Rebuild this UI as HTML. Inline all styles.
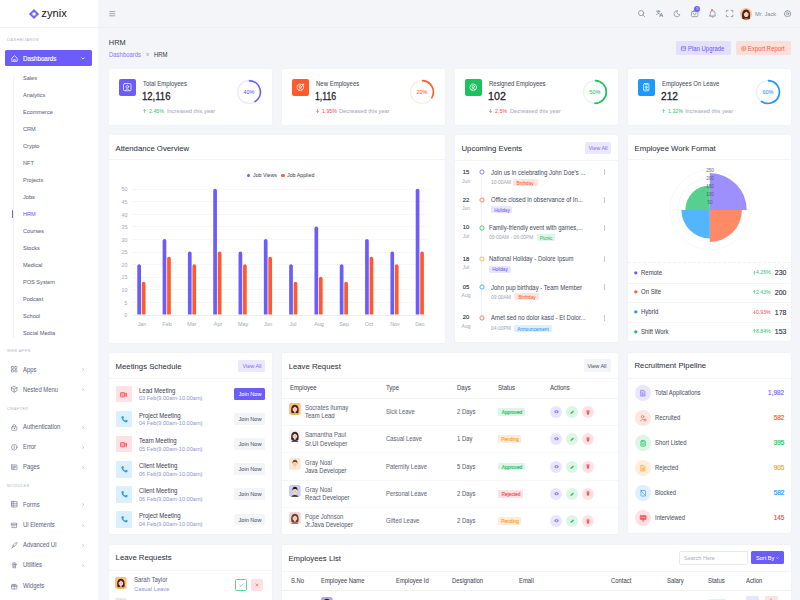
<!DOCTYPE html><html><head><meta charset="utf-8"><title>HRM</title><style>
*{box-sizing:border-box;margin:0;padding:0}
html,body{width:800px;height:600px;overflow:hidden;background:#f4f5f9;font-family:"Liberation Sans",sans-serif}
.a{position:absolute}
.t{position:absolute;line-height:1;white-space:nowrap;-webkit-text-stroke:0.04px currentColor}
.card{background:#fff;border-radius:1.5px;box-shadow:0 0 1.5px rgba(120,125,150,0.10)}
svg{overflow:visible}
</style></head><body>
<div class="a" style="left:0.00px;top:0.00px;width:98.00px;height:600.00px;background:#fff;border-radius:0px;"></div>
<div class="a" style="left:97.60px;top:0.00px;width:0.80px;height:600.00px;background:#f5f6f9;border-radius:0px;"></div>
<div class="a" style="left:0.00px;top:27.00px;width:98.00px;height:0;border-top:0.5px solid #eef0f4"></div>
<svg class="a" style="left:29.10px;top:8.90px;" width="10" height="10" viewBox="0 0 10 10"><path d="M5 -0.1 L10.1 5 L5 10.1 L-0.1 5 Z" fill="#6c5cfc" opacity="0.95"/>
<path d="M5 2.9 L7.1 5 L5 7.1 L2.9 5 Z" fill="#fff"/><path d="M2.6 2.6 L7.4 7.4 M7.4 2.6 L2.6 7.4" stroke="#fff" stroke-width="0.35" opacity="0.45"/></svg>
<div class="t" style="top:8px;font-size:11.2px;color:#1a1a1a;left:41.30px;-webkit-text-stroke:0.05px #1a1a1a;">zynix</div>
<div class="t" style="top:38px;font-size:4.39px;color:#bcc2d0;left:7.00px;transform:scaleX(0.935);transform-origin:0 0;letter-spacing:0.35px;">DASHBOARDS</div>
<div class="a" style="left:5.00px;top:50.00px;width:86.50px;height:16.00px;background:#6c5cfc;border-radius:1.6px;"></div>
<svg class="a" style="left:10.90px;top:55.00px;" width="7" height="7" viewBox="0 0 7 7"><path d="M0.8 3.1 L3.5 0.7 L6.2 3.1 V6.3 H0.8 Z" fill="none" stroke="#fff" stroke-width="0.75" stroke-linejoin="round"/><path d="M2.7 6.3 V4.5 H4.3 V6.3" fill="none" stroke="#fff" stroke-width="0.65"/></svg>
<div class="t" style="top:56px;font-size:6.63px;color:#fff;left:23.00px;transform:scaleX(0.935);transform-origin:0 0;-webkit-text-stroke:0.15px #fff;">Dashboards</div>
<svg class="a" style="left:81.10px;top:56.90px;" width="4" height="3" viewBox="0 0 4 3"><path d="M0.4 0.5 L2 2.1 L3.6 0.5" fill="none" stroke="#fff" stroke-width="0.8"/></svg>
<div class="a" style="left:12.60px;top:76.50px;width:0.70px;height:261.00px;background:#f0f1f5;border-radius:0px;"></div>
<div class="t" style="top:75px;font-size:5.99px;color:#5d6880;left:23.00px;transform:scaleX(0.935);transform-origin:0 0;">Sales</div>
<div class="t" style="top:92px;font-size:5.99px;color:#5d6880;left:23.00px;transform:scaleX(0.935);transform-origin:0 0;">Analytics</div>
<div class="t" style="top:109px;font-size:5.99px;color:#5d6880;left:23.00px;transform:scaleX(0.935);transform-origin:0 0;">Ecommerce</div>
<div class="t" style="top:126px;font-size:5.99px;color:#5d6880;left:23.00px;transform:scaleX(0.935);transform-origin:0 0;">CRM</div>
<div class="t" style="top:143px;font-size:5.99px;color:#5d6880;left:23.00px;transform:scaleX(0.935);transform-origin:0 0;">Crypto</div>
<div class="t" style="top:160px;font-size:5.99px;color:#5d6880;left:23.00px;transform:scaleX(0.935);transform-origin:0 0;">NFT</div>
<div class="t" style="top:177px;font-size:5.99px;color:#5d6880;left:23.00px;transform:scaleX(0.935);transform-origin:0 0;">Projects</div>
<div class="t" style="top:194px;font-size:5.99px;color:#5d6880;left:23.00px;transform:scaleX(0.935);transform-origin:0 0;">Jobs</div>
<div class="t" style="top:211px;font-size:5.99px;color:#6c5cfc;left:23.00px;transform:scaleX(0.935);transform-origin:0 0;">HRM</div>
<div class="t" style="top:228px;font-size:5.99px;color:#5d6880;left:23.00px;transform:scaleX(0.935);transform-origin:0 0;">Courses</div>
<div class="t" style="top:245px;font-size:5.99px;color:#5d6880;left:23.00px;transform:scaleX(0.935);transform-origin:0 0;">Stocks</div>
<div class="t" style="top:262px;font-size:5.99px;color:#5d6880;left:23.00px;transform:scaleX(0.935);transform-origin:0 0;">Medical</div>
<div class="t" style="top:279px;font-size:5.99px;color:#5d6880;left:23.00px;transform:scaleX(0.935);transform-origin:0 0;">POS System</div>
<div class="t" style="top:296px;font-size:5.99px;color:#5d6880;left:23.00px;transform:scaleX(0.935);transform-origin:0 0;">Podcast</div>
<div class="t" style="top:313px;font-size:5.99px;color:#5d6880;left:23.00px;transform:scaleX(0.935);transform-origin:0 0;">School</div>
<div class="t" style="top:330px;font-size:5.99px;color:#5d6880;left:23.00px;transform:scaleX(0.935);transform-origin:0 0;">Social Media</div>
<div class="a" style="left:12.30px;top:209.70px;width:1.20px;height:8.00px;background:#6c5cfc;border-radius:0.5px;"></div>
<div class="t" style="top:349px;font-size:4.39px;color:#bcc2d0;left:7.00px;transform:scaleX(0.935);transform-origin:0 0;letter-spacing:0.35px;">WEB APPS</div>
<svg class="a" style="left:10.80px;top:366.05px;" width="6.5" height="6.5" viewBox="0 0 6.5 6.5"><g fill="none" stroke="#6b7388" stroke-width="0.6" stroke-linejoin="round" stroke-linecap="round"><rect x="0.5" y="0.5" width="2.2" height="2.2" rx="0.4"/><rect x="3.8" y="0.5" width="2.2" height="2.2" rx="0.4"/><rect x="0.5" y="3.8" width="2.2" height="2.2" rx="0.4"/><rect x="3.8" y="3.8" width="2.2" height="2.2" rx="0.4"/></g></svg>
<div class="t" style="top:367px;font-size:6.31px;color:#5d6880;left:23.00px;transform:scaleX(0.935);transform-origin:0 0;">Apps</div>
<svg class="a" style="left:82.20px;top:368.00px;" width="2.2" height="3" viewBox="0 0 2.2 3"><path d="M0.4 0.3 L1.7 1.5 L0.4 2.7" fill="none" stroke="#8d95a8" stroke-width="0.55"/></svg>
<svg class="a" style="left:10.80px;top:386.25px;" width="6.5" height="6.5" viewBox="0 0 6.5 6.5"><g fill="none" stroke="#6b7388" stroke-width="0.6" stroke-linejoin="round" stroke-linecap="round"><path d="M3.25 0.4 L6 1.8 V4.7 L3.25 6.1 L0.5 4.7 V1.8 Z"/><path d="M0.5 1.8 L3.25 3.2 L6 1.8 M3.25 3.2 V6.1"/></g></svg>
<div class="t" style="top:387px;font-size:6.31px;color:#5d6880;left:23.00px;transform:scaleX(0.935);transform-origin:0 0;">Nested Menu</div>
<svg class="a" style="left:82.20px;top:388.20px;" width="2.2" height="3" viewBox="0 0 2.2 3"><path d="M0.4 0.3 L1.7 1.5 L0.4 2.7" fill="none" stroke="#8d95a8" stroke-width="0.55"/></svg>
<div class="t" style="top:407px;font-size:4.39px;color:#bcc2d0;left:7.00px;transform:scaleX(0.935);transform-origin:0 0;letter-spacing:0.35px;">CRAFTED</div>
<svg class="a" style="left:10.80px;top:423.55px;" width="6.5" height="6.5" viewBox="0 0 6.5 6.5"><g fill="none" stroke="#6b7388" stroke-width="0.6" stroke-linejoin="round" stroke-linecap="round"><rect x="0.7" y="2.8" width="5.1" height="3.5" rx="0.5"/><path d="M1.9 2.8 V1.9 A1.35 1.35 0 0 1 4.6 1.9 V2.8"/><circle cx="3.25" cy="4.5" r="0.3"/></g></svg>
<div class="t" style="top:424px;font-size:6.31px;color:#5d6880;left:23.00px;transform:scaleX(0.935);transform-origin:0 0;">Authentication</div>
<svg class="a" style="left:82.20px;top:425.50px;" width="2.2" height="3" viewBox="0 0 2.2 3"><path d="M0.4 0.3 L1.7 1.5 L0.4 2.7" fill="none" stroke="#8d95a8" stroke-width="0.55"/></svg>
<svg class="a" style="left:10.80px;top:443.55px;" width="6.5" height="6.5" viewBox="0 0 6.5 6.5"><g fill="none" stroke="#6b7388" stroke-width="0.6" stroke-linejoin="round" stroke-linecap="round"><circle cx="3.25" cy="3.25" r="2.8"/><path d="M3.25 1.8 V3.6 M3.25 4.4 V4.7"/></g></svg>
<div class="t" style="top:444px;font-size:6.31px;color:#5d6880;left:23.00px;transform:scaleX(0.935);transform-origin:0 0;">Error</div>
<svg class="a" style="left:82.20px;top:445.50px;" width="2.2" height="3" viewBox="0 0 2.2 3"><path d="M0.4 0.3 L1.7 1.5 L0.4 2.7" fill="none" stroke="#8d95a8" stroke-width="0.55"/></svg>
<svg class="a" style="left:10.80px;top:463.95px;" width="6.5" height="6.5" viewBox="0 0 6.5 6.5"><g fill="none" stroke="#6b7388" stroke-width="0.6" stroke-linejoin="round" stroke-linecap="round"><rect x="0.5" y="0.9" width="5.5" height="4.7" rx="0.4"/><path d="M1.6 2.3 H4.9 M1.6 3.3 H4.9 M1.6 4.3 H3.5"/></g></svg>
<div class="t" style="top:464px;font-size:6.31px;color:#5d6880;left:23.00px;transform:scaleX(0.935);transform-origin:0 0;">Pages</div>
<svg class="a" style="left:82.20px;top:465.90px;" width="2.2" height="3" viewBox="0 0 2.2 3"><path d="M0.4 0.3 L1.7 1.5 L0.4 2.7" fill="none" stroke="#8d95a8" stroke-width="0.55"/></svg>
<div class="t" style="top:484px;font-size:4.39px;color:#bcc2d0;left:7.00px;transform:scaleX(0.935);transform-origin:0 0;letter-spacing:0.35px;">MODULES</div>
<svg class="a" style="left:10.80px;top:501.35px;" width="6.5" height="6.5" viewBox="0 0 6.5 6.5"><g fill="none" stroke="#6b7388" stroke-width="0.6" stroke-linejoin="round" stroke-linecap="round"><rect x="0.5" y="0.5" width="5.5" height="5.5" rx="0.4"/><path d="M0.5 2.3 H6 M0.5 4.2 H6 M2.2 0.5 V6"/></g></svg>
<div class="t" style="top:502px;font-size:6.31px;color:#5d6880;left:23.00px;transform:scaleX(0.935);transform-origin:0 0;">Forms</div>
<svg class="a" style="left:82.20px;top:503.30px;" width="2.2" height="3" viewBox="0 0 2.2 3"><path d="M0.4 0.3 L1.7 1.5 L0.4 2.7" fill="none" stroke="#8d95a8" stroke-width="0.55"/></svg>
<svg class="a" style="left:10.80px;top:521.55px;" width="6.5" height="6.5" viewBox="0 0 6.5 6.5"><g fill="none" stroke="#6b7388" stroke-width="0.6" stroke-linejoin="round" stroke-linecap="round"><path d="M0.5 1.2 H6 V2.6 H0.5 Z M1 2.6 V5.6 H5.5 V2.6"/><path d="M2.4 3.8 H4.1"/></g></svg>
<div class="t" style="top:522px;font-size:6.31px;color:#5d6880;left:23.00px;transform:scaleX(0.935);transform-origin:0 0;">Ui Elements</div>
<svg class="a" style="left:82.20px;top:523.50px;" width="2.2" height="3" viewBox="0 0 2.2 3"><path d="M0.4 0.3 L1.7 1.5 L0.4 2.7" fill="none" stroke="#8d95a8" stroke-width="0.55"/></svg>
<svg class="a" style="left:10.80px;top:541.85px;" width="6.5" height="6.5" viewBox="0 0 6.5 6.5"><g fill="none" stroke="#6b7388" stroke-width="0.6" stroke-linejoin="round" stroke-linecap="round"><path d="M1 5.8 L2.2 3.4 C3 1.6 4.6 0.6 5.9 0.6 C5.9 2.2 4.9 3.6 3.1 4.4 Z"/><path d="M2.2 3.4 L3.1 4.4"/></g></svg>
<div class="t" style="top:542px;font-size:6.31px;color:#5d6880;left:23.00px;transform:scaleX(0.935);transform-origin:0 0;">Advanced UI</div>
<svg class="a" style="left:82.20px;top:543.80px;" width="2.2" height="3" viewBox="0 0 2.2 3"><path d="M0.4 0.3 L1.7 1.5 L0.4 2.7" fill="none" stroke="#8d95a8" stroke-width="0.55"/></svg>
<svg class="a" style="left:10.80px;top:561.95px;" width="6.5" height="6.5" viewBox="0 0 6.5 6.5"><g fill="none" stroke="#6b7388" stroke-width="0.6" stroke-linejoin="round" stroke-linecap="round"><circle cx="3.25" cy="2.4" r="1.9"/><circle cx="3.25" cy="2.4" r="0.8"/><path d="M2 4 V6.1 L3.25 5.4 L4.5 6.1 V4"/></g></svg>
<div class="t" style="top:562px;font-size:6.31px;color:#5d6880;left:23.00px;transform:scaleX(0.935);transform-origin:0 0;">Utilities</div>
<svg class="a" style="left:82.20px;top:563.90px;" width="2.2" height="3" viewBox="0 0 2.2 3"><path d="M0.4 0.3 L1.7 1.5 L0.4 2.7" fill="none" stroke="#8d95a8" stroke-width="0.55"/></svg>
<svg class="a" style="left:10.80px;top:582.75px;" width="6.5" height="6.5" viewBox="0 0 6.5 6.5"><g fill="none" stroke="#6b7388" stroke-width="0.6" stroke-linejoin="round" stroke-linecap="round"><rect x="0.6" y="2" width="5.3" height="4" rx="0.4"/><path d="M0.6 3.4 H5.9 M3.25 2 V6 M3.25 2 C2.2 0.4 1.2 1.2 2 2 M3.25 2 C4.3 0.4 5.3 1.2 4.5 2"/></g></svg>
<div class="t" style="top:583px;font-size:6.31px;color:#5d6880;left:23.00px;transform:scaleX(0.935);transform-origin:0 0;">Widgets</div>
<div class="a" style="left:98.00px;top:27.00px;width:702.00px;height:0;border-top:0.5px solid #eceef3"></div>
<svg class="a" style="left:109.00px;top:11.00px;" width="6.5" height="5.5" viewBox="0 0 6.5 5.5"><path d="M0.3 0.6 H6.2 M0.3 2.7 H6.2 M0.3 4.8 H6.2" stroke="#7d869a" stroke-width="0.7"/></svg>
<svg class="a" style="left:637.80px;top:9.90px;" width="7.5" height="7.5" viewBox="0 0 7.5 7.5"><g fill="none" stroke="#7f889e" stroke-width="0.75" stroke-linecap="round" stroke-linejoin="round"><circle cx="3.1" cy="3.1" r="2.6"/><path d="M5 5 L6.6 6.6"/></g></svg>
<svg class="a" style="left:655.80px;top:10.20px;" width="7.5" height="7.5" viewBox="0 0 7.5 7.5"><g fill="none" stroke="#7f889e" stroke-width="0.75" stroke-linecap="round" stroke-linejoin="round"><path d="M0.5 1.2 H4 M2.2 0.4 V1.2 M3.4 1.2 C3 3 2 4 0.6 4.6 M1.4 2.2 C2 3.4 3 4 4.2 4.4"/><path d="M3.8 6.6 L5.3 3.2 L6.8 6.6 M4.3 5.6 H6.3"/></g></svg>
<svg class="a" style="left:673.00px;top:10.00px;" width="7.5" height="7.5" viewBox="0 0 7.5 7.5"><g fill="none" stroke="#7f889e" stroke-width="0.75" stroke-linecap="round" stroke-linejoin="round"><path d="M4.2 0.8 A3 3 0 1 0 6.8 4.6 A2.6 2.6 0 0 1 4.2 0.8 Z"/></g></svg>
<svg class="a" style="left:690.80px;top:10.40px;" width="7.5" height="7.5" viewBox="0 0 7.5 7.5"><g fill="none" stroke="#7f889e" stroke-width="0.75" stroke-linecap="round" stroke-linejoin="round"><rect x="0.5" y="1.6" width="6.4" height="5" rx="0.8"/><path d="M2.3 1.6 V1.4 A1.4 1.4 0 0 1 5.1 1.4 V1.6 M2.4 3.4 A1.3 1.3 0 0 0 5 3.4"/></g></svg>
<div class="a" style="left:694.3px;top:6.4px;width:6px;height:6px;border-radius:50%;background:#6c5cfc;color:#fff;font-size:4px;line-height:6px;text-align:center">5</div>
<svg class="a" style="left:708.60px;top:10.20px;" width="7.5" height="7.5" viewBox="0 0 7.5 7.5"><g fill="none" stroke="#7f889e" stroke-width="0.75" stroke-linecap="round" stroke-linejoin="round"><path d="M1.2 5.4 V3.2 A2.4 2.4 0 0 1 6 3.2 V5.4 L6.6 6 H0.6 Z M2.8 6.6 A0.8 0.8 0 0 0 4.4 6.6"/></g></svg>
<div class="a" style="left:711.20px;top:8.80px;width:2.00px;height:2.00px;background:#fe5f3f;border-radius:1px;"></div>
<svg class="a" style="left:726.00px;top:10.40px;" width="7.5" height="7.5" viewBox="0 0 7.5 7.5"><g fill="none" stroke="#7f889e" stroke-width="0.75" stroke-linecap="round" stroke-linejoin="round"><path d="M0.4 2 V0.4 H2 M5.2 0.4 H6.8 V2 M6.8 5 V6.6 H5.2 M2 6.6 H0.4 V5"/></g></svg>
<svg class="a" style="left:740.00px;top:8.00px;" width="12" height="12" viewBox="0 0 12 12"><defs><clipPath id="av0"><circle cx="6" cy="6" r="6"/></clipPath></defs><g clip-path="url(#av0)"><rect width="12" height="12" fill="#f6c28e"/>
<path d="M2.4 11 C1.4 6 2.4 1.6 6.2 1.6 C9.8 1.6 10.6 6 9.8 11 Z" fill="#4a2220"/><path d="M2.8 12.5 C3.2 9.6 9.2 9.6 9.6 12.5 Z" fill="#c9743c"/><ellipse cx="6.2" cy="6.3" rx="2.3" ry="2.8" fill="#f6d3b8"/><path d="M3.8 5.4 C4 3.2 5.2 2.6 6.4 2.6 C7.8 2.6 8.8 3.6 8.6 5.4 C7.4 4.6 6.6 3.8 6.3 3.3 C5.8 4.3 5 5 3.8 5.4 Z" fill="#4a2220"/></g></svg>
<div class="t" style="top:11px;font-size:6.1px;color:#8a93a8;left:755.00px;transform:scaleX(0.935);transform-origin:0 0;">Mr. Jack</div>
<svg class="a" style="left:783.60px;top:10.30px;" width="7.5" height="7.5" viewBox="0 0 7.5 7.5"><g fill="none" stroke="#7f889e" stroke-width="0.75" stroke-linecap="round" stroke-linejoin="round"><circle cx="3.6" cy="3.6" r="1.2"/><path d="M3.6 0.4 L4.4 1.2 L5.6 1 L5.9 2.2 L6.9 2.9 L6.4 3.9 L6.9 4.9 L5.9 5.2 L5.6 6.3 L4.4 6.2 L3.6 7 L2.8 6.2 L1.6 6.3 L1.3 5.2 L0.3 4.9 L0.8 3.9 L0.3 2.9 L1.3 2.2 L1.6 1 L2.8 1.2 Z"/></g></svg>
<div class="t" style="top:39px;font-size:7.4px;color:#333a48;left:108.80px;">HRM</div>
<div class="t" style="top:52px;font-size:6.37px;color:#8b7ff7;left:109.00px;transform:scaleX(0.935);transform-origin:0 0;">Dashboards</div>
<div class="t" style="top:52px;font-size:6.42px;color:#a0a6b6;left:145.60px;transform:scaleX(0.935);transform-origin:0 0;">»</div>
<div class="t" style="top:52px;font-size:6.37px;color:#3d4352;left:153.50px;transform:scaleX(0.935);transform-origin:0 0;">HRM</div>
<div class="a" style="left:676.00px;top:41.20px;width:54.70px;height:14.10px;background:#e3dffd;border-radius:1.8px;"></div>
<svg class="a" style="left:681.40px;top:45.60px;" width="5" height="5" viewBox="0 0 5 5"><rect x="0.4" y="0.6" width="4.2" height="3.8" rx="0.4" fill="none" stroke="#6c5cfc" stroke-width="0.6"/><path d="M0.4 2 H4.6" stroke="#6c5cfc" stroke-width="0.6"/></svg>
<div class="t" style="top:46px;font-size:6.37px;color:#6c5cfc;left:688.40px;transform:scaleX(0.935);transform-origin:0 0;">Plan Upgrade</div>
<div class="a" style="left:736.00px;top:41.20px;width:54.80px;height:14.20px;background:#fbe0da;border-radius:1.8px;"></div>
<svg class="a" style="left:741.20px;top:45.50px;" width="5.2" height="5.2" viewBox="0 0 5.2 5.2"><g fill="none" stroke="#fe5f3f" stroke-width="0.6"><circle cx="2.6" cy="2.6" r="2.2"/><path d="M1.3 2.4 L2.6 3.6 L3.9 2.4 M2.6 1 V3.6"/></g></svg>
<div class="t" style="top:46px;font-size:6.37px;color:#fe5f3f;left:748.00px;transform:scaleX(0.935);transform-origin:0 0;">Export Report</div>
<div class="a card" style="left:109.00px;top:69.00px;width:162.80px;height:56.30px"></div>
<div class="a" style="left:119.00px;top:79.00px;width:16.50px;height:16.50px;background:#6c5cfc;border-radius:2px;"></div>
<svg class="a" style="left:123.00px;top:83.00px;" width="8.5" height="8.5" viewBox="0 0 8.5 8.5"><g fill="none" stroke="#fff" stroke-width="0.75" stroke-linecap="round" stroke-linejoin="round"><rect x="0.5" y="0.5" width="7.5" height="7.3" rx="1.2"/><circle cx="4.25" cy="3.7" r="1.3"/><path d="M2.2 7.6 C2.5 5.6 6 5.6 6.3 7.6"/></g></svg>
<div class="t" style="top:81px;font-size:6.42px;color:#454b5b;left:142.50px;transform:scaleX(0.935);transform-origin:0 0;">Total Employees</div>
<div class="t" style="top:91px;font-size:11.5px;color:#1f232c;left:142.30px;transform:scaleX(0.83);transform-origin:0 0;-webkit-text-stroke:0.3px #1f232c;">12,116</div>
<svg class="a" style="left:143.10px;top:108.90px;" width="3.2" height="4" viewBox="0 0 3.2 4"><path d="M1.6 3.8 V0.6 M0.4 1.8 L1.6 0.5 L2.8 1.8" fill="none" stroke="#3bc77e" stroke-width="0.7"/></svg>
<div class="t" style="top:109px;font-size:5.67px;color:#3bc77e;left:149.40px;transform:scaleX(0.935);transform-origin:0 0;">2.45%</div>
<div class="t" style="top:108px;font-size:6.1px;color:#a7abbe;left:166.60px;transform:scaleX(0.935);transform-origin:0 0;">Increased this year</div>
<svg class="a" style="left:235.50px;top:78.90px;" width="26" height="26" viewBox="0 0 26 26"><circle cx="13" cy="13" r="11.4" fill="none" stroke="#e9e6fe" stroke-width="1.3"/><path d="M13.60 1.62 A11.4 11.4 0 0 1 19.04 22.67" fill="none" stroke="#6c5cfc" stroke-width="1.65" stroke-linecap="round"/></svg>
<div class="t" style="top:90px;font-size:5.78px;color:#6c5cfc;left:248.50px;transform:translateX(-50%) scaleX(0.935);-webkit-text-stroke:0.05px;">40%</div>
<div class="a card" style="left:282.00px;top:69.00px;width:162.80px;height:56.30px"></div>
<div class="a" style="left:292.00px;top:79.00px;width:16.50px;height:16.50px;background:#fe5b2c;border-radius:2px;"></div>
<svg class="a" style="left:296.00px;top:83.00px;" width="8.5" height="8.5" viewBox="0 0 8.5 8.5"><g fill="none" stroke="#fff" stroke-width="0.75" stroke-linecap="round" stroke-linejoin="round"><circle cx="4.25" cy="4.4" r="3.4" stroke-dasharray="4.2 1.1"/><circle cx="4.25" cy="3.8" r="1.15"/><path d="M2.5 6.6 C3 5.2 5.5 5.2 6 6.6"/><path d="M7 0.8 V2.4 M6.2 1.6 H7.8"/></g></svg>
<div class="t" style="top:81px;font-size:6.42px;color:#454b5b;left:315.50px;transform:scaleX(0.935);transform-origin:0 0;">New Employees</div>
<div class="t" style="top:91px;font-size:11.5px;color:#1f232c;left:315.30px;transform:scaleX(0.76);transform-origin:0 0;-webkit-text-stroke:0.3px #1f232c;">1,116</div>
<svg class="a" style="left:316.10px;top:109.20px;" width="3.2" height="4" viewBox="0 0 3.2 4"><path d="M1.6 0.2 V3.4 M0.4 2.2 L1.6 3.5 L2.8 2.2" fill="none" stroke="#f2545b" stroke-width="0.7"/></svg>
<div class="t" style="top:109px;font-size:5.67px;color:#f2545b;left:322.40px;transform:scaleX(0.935);transform-origin:0 0;">1.95%</div>
<div class="t" style="top:108px;font-size:6.1px;color:#a7abbe;left:338.70px;transform:scaleX(0.935);transform-origin:0 0;">Decreased this year</div>
<svg class="a" style="left:408.50px;top:78.90px;" width="26" height="26" viewBox="0 0 26 26"><circle cx="13" cy="13" r="11.4" fill="none" stroke="#feeae4" stroke-width="1.3"/><path d="M13.60 1.62 A11.4 11.4 0 0 1 22.87 18.70" fill="none" stroke="#fe5b2c" stroke-width="1.65" stroke-linecap="round"/></svg>
<div class="t" style="top:90px;font-size:5.78px;color:#fe5b2c;left:421.50px;transform:translateX(-50%) scaleX(0.935);-webkit-text-stroke:0.05px;">20%</div>
<div class="a card" style="left:455.00px;top:69.00px;width:162.80px;height:56.30px"></div>
<div class="a" style="left:465.00px;top:79.00px;width:16.50px;height:16.50px;background:#1cc160;border-radius:2px;"></div>
<svg class="a" style="left:469.00px;top:83.00px;" width="8.5" height="8.5" viewBox="0 0 8.5 8.5"><g fill="none" stroke="#fff" stroke-width="0.75" stroke-linecap="round" stroke-linejoin="round"><circle cx="4.25" cy="4.3" r="3.4" stroke-dasharray="4.2 1.1"/><circle cx="4.25" cy="3.7" r="1.2"/><path d="M2.5 6.6 C3 5.2 5.5 5.2 6 6.6"/></g></svg>
<div class="t" style="top:81px;font-size:6.42px;color:#454b5b;left:488.50px;transform:scaleX(0.935);transform-origin:0 0;">Resigned Employees</div>
<div class="t" style="top:91px;font-size:11.5px;color:#1f232c;left:488.30px;transform:scaleX(0.93);transform-origin:0 0;-webkit-text-stroke:0.3px #1f232c;">102</div>
<svg class="a" style="left:489.10px;top:109.20px;" width="3.2" height="4" viewBox="0 0 3.2 4"><path d="M1.6 0.2 V3.4 M0.4 2.2 L1.6 3.5 L2.8 2.2" fill="none" stroke="#f2545b" stroke-width="0.7"/></svg>
<div class="t" style="top:109px;font-size:5.67px;color:#f2545b;left:495.40px;transform:scaleX(0.935);transform-origin:0 0;">2.5%</div>
<div class="t" style="top:108px;font-size:6.1px;color:#a7abbe;left:509.70px;transform:scaleX(0.935);transform-origin:0 0;">Decreased this year</div>
<svg class="a" style="left:581.50px;top:78.90px;" width="26" height="26" viewBox="0 0 26 26"><circle cx="13" cy="13" r="11.4" fill="none" stroke="#e2f7ea" stroke-width="1.3"/><path d="M13.60 1.62 A11.4 11.4 0 0 1 13.00 24.40" fill="none" stroke="#1cc160" stroke-width="1.65" stroke-linecap="round"/></svg>
<div class="t" style="top:90px;font-size:5.78px;color:#1cc160;left:594.50px;transform:translateX(-50%) scaleX(0.935);-webkit-text-stroke:0.05px;">50%</div>
<div class="a card" style="left:628.00px;top:69.00px;width:162.80px;height:56.30px"></div>
<div class="a" style="left:638.00px;top:79.00px;width:16.50px;height:16.50px;background:#1b9afb;border-radius:2px;"></div>
<svg class="a" style="left:642.00px;top:83.00px;" width="8.5" height="8.5" viewBox="0 0 8.5 8.5"><g fill="none" stroke="#fff" stroke-width="0.75" stroke-linecap="round" stroke-linejoin="round"><rect x="1.6" y="0.6" width="5.3" height="7.2" rx="0.8"/><path d="M3.3 0.6 V1.8 H5.2 V0.6"/><circle cx="4.25" cy="4.1" r="0.9"/><path d="M2.9 6.6 C3.2 5.3 5.3 5.3 5.6 6.6"/></g></svg>
<div class="t" style="top:81px;font-size:6.42px;color:#454b5b;left:661.50px;transform:scaleX(0.935);transform-origin:0 0;">Employees On Leave</div>
<div class="t" style="top:91px;font-size:11.5px;color:#1f232c;left:661.30px;transform:scaleX(0.88);transform-origin:0 0;-webkit-text-stroke:0.3px #1f232c;">212</div>
<svg class="a" style="left:662.10px;top:108.90px;" width="3.2" height="4" viewBox="0 0 3.2 4"><path d="M1.6 3.8 V0.6 M0.4 1.8 L1.6 0.5 L2.8 1.8" fill="none" stroke="#3bc77e" stroke-width="0.7"/></svg>
<div class="t" style="top:109px;font-size:5.67px;color:#3bc77e;left:668.40px;transform:scaleX(0.935);transform-origin:0 0;">1.32%</div>
<div class="t" style="top:108px;font-size:6.1px;color:#a7abbe;left:684.50px;transform:scaleX(0.935);transform-origin:0 0;">Increased this year</div>
<svg class="a" style="left:754.50px;top:78.90px;" width="26" height="26" viewBox="0 0 26 26"><circle cx="13" cy="13" r="11.4" fill="none" stroke="#e2f1fe" stroke-width="1.3"/><path d="M13.60 1.62 A11.4 11.4 0 1 1 6.63 22.45" fill="none" stroke="#1b9afb" stroke-width="1.65" stroke-linecap="round"/></svg>
<div class="t" style="top:90px;font-size:5.78px;color:#1b9afb;left:767.50px;transform:translateX(-50%) scaleX(0.935);-webkit-text-stroke:0.05px;">60%</div>
<div class="a card" style="left:109.00px;top:135.30px;width:335.80px;height:207.70px"></div>
<div class="t" style="top:145px;font-size:7.75px;color:#2c313c;left:115.50px;">Attendance Overview</div>
<div class="a" style="left:109.00px;top:159.40px;width:335.80px;height:0;border-top:0.5px solid #f3f4f7"></div>
<div class="a" style="left:246.50px;top:173.50px;width:3.60px;height:3.60px;background:#6c5cfc;border-radius:2px;"></div>
<div class="t" style="top:173px;font-size:5.67px;color:#4a5060;left:253.00px;transform:scaleX(0.935);transform-origin:0 0;">Job Views</div>
<div class="a" style="left:281.00px;top:173.50px;width:3.60px;height:3.60px;background:#fe5b2c;border-radius:2px;"></div>
<div class="t" style="top:173px;font-size:5.67px;color:#4a5060;left:287.00px;transform:scaleX(0.935);transform-origin:0 0;">Job Applied</div>
<div class="t" style="top:313px;font-size:5.78px;color:#a9aebf;right:672.60px;transform:scaleX(0.935);transform-origin:100% 0;">0</div>
<div class="a" style="left:131.70px;top:314.50px;width:296.50px;height:0;border-top:0.5px solid #eceef3"></div>
<div class="t" style="top:301px;font-size:5.78px;color:#a9aebf;right:672.60px;transform:scaleX(0.935);transform-origin:100% 0;">5</div>
<div class="a" style="left:131.7px;top:301.92px;width:296.5px;height:0;border-top:0.6px dotted #eff0f4"></div>
<div class="t" style="top:288px;font-size:5.78px;color:#a9aebf;right:672.60px;transform:scaleX(0.935);transform-origin:100% 0;">10</div>
<div class="a" style="left:131.7px;top:289.34px;width:296.5px;height:0;border-top:0.6px dotted #eff0f4"></div>
<div class="t" style="top:275px;font-size:5.78px;color:#a9aebf;right:672.60px;transform:scaleX(0.935);transform-origin:100% 0;">15</div>
<div class="a" style="left:131.7px;top:276.76px;width:296.5px;height:0;border-top:0.6px dotted #eff0f4"></div>
<div class="t" style="top:263px;font-size:5.78px;color:#a9aebf;right:672.60px;transform:scaleX(0.935);transform-origin:100% 0;">20</div>
<div class="a" style="left:131.7px;top:264.18px;width:296.5px;height:0;border-top:0.6px dotted #eff0f4"></div>
<div class="t" style="top:250px;font-size:5.78px;color:#a9aebf;right:672.60px;transform:scaleX(0.935);transform-origin:100% 0;">25</div>
<div class="a" style="left:131.7px;top:251.60px;width:296.5px;height:0;border-top:0.6px dotted #eff0f4"></div>
<div class="t" style="top:238px;font-size:5.78px;color:#a9aebf;right:672.60px;transform:scaleX(0.935);transform-origin:100% 0;">30</div>
<div class="a" style="left:131.7px;top:239.02px;width:296.5px;height:0;border-top:0.6px dotted #eff0f4"></div>
<div class="t" style="top:225px;font-size:5.78px;color:#a9aebf;right:672.60px;transform:scaleX(0.935);transform-origin:100% 0;">35</div>
<div class="a" style="left:131.7px;top:226.44px;width:296.5px;height:0;border-top:0.6px dotted #eff0f4"></div>
<div class="t" style="top:213px;font-size:5.78px;color:#a9aebf;right:672.60px;transform:scaleX(0.935);transform-origin:100% 0;">40</div>
<div class="a" style="left:131.7px;top:213.86px;width:296.5px;height:0;border-top:0.6px dotted #eff0f4"></div>
<div class="t" style="top:200px;font-size:5.78px;color:#a9aebf;right:672.60px;transform:scaleX(0.935);transform-origin:100% 0;">45</div>
<div class="a" style="left:131.7px;top:201.28px;width:296.5px;height:0;border-top:0.6px dotted #eff0f4"></div>
<div class="t" style="top:187px;font-size:5.78px;color:#a9aebf;right:672.60px;transform:scaleX(0.935);transform-origin:100% 0;">50</div>
<div class="a" style="left:131.7px;top:188.70px;width:296.5px;height:0;border-top:0.6px dotted #eff0f4"></div>
<div class="t" style="top:322px;font-size:5.78px;color:#a9aebf;left:141.60px;transform:translateX(-50%) scaleX(0.935);">Jan</div>
<div class="t" style="top:322px;font-size:5.78px;color:#a9aebf;left:166.91px;transform:translateX(-50%) scaleX(0.935);">Feb</div>
<div class="t" style="top:322px;font-size:5.78px;color:#a9aebf;left:192.22px;transform:translateX(-50%) scaleX(0.935);">Mar</div>
<div class="t" style="top:322px;font-size:5.78px;color:#a9aebf;left:217.53px;transform:translateX(-50%) scaleX(0.935);">Apr</div>
<div class="t" style="top:322px;font-size:5.78px;color:#a9aebf;left:242.84px;transform:translateX(-50%) scaleX(0.935);">May</div>
<div class="t" style="top:322px;font-size:5.78px;color:#a9aebf;left:268.15px;transform:translateX(-50%) scaleX(0.935);">Jun</div>
<div class="t" style="top:322px;font-size:5.78px;color:#a9aebf;left:293.46px;transform:translateX(-50%) scaleX(0.935);">Jul</div>
<div class="t" style="top:322px;font-size:5.78px;color:#a9aebf;left:318.77px;transform:translateX(-50%) scaleX(0.935);">Aug</div>
<div class="t" style="top:322px;font-size:5.78px;color:#a9aebf;left:344.08px;transform:translateX(-50%) scaleX(0.935);">Sep</div>
<div class="t" style="top:322px;font-size:5.78px;color:#a9aebf;left:369.39px;transform:translateX(-50%) scaleX(0.935);">Oct</div>
<div class="t" style="top:322px;font-size:5.78px;color:#a9aebf;left:394.70px;transform:translateX(-50%) scaleX(0.935);">Nov</div>
<div class="t" style="top:322px;font-size:5.78px;color:#a9aebf;left:420.01px;transform:translateX(-50%) scaleX(0.935);">Dec</div>
<svg class="a" style="left:0.00px;top:0.00px;pointer-events:none" width="800" height="600" viewBox="0 0 800 600"><path d="M137.30 314.50 V266.03 A1.85 1.85 0 0 1 141.00 266.03 V314.50 Z" fill="#6c5cfc"/><path d="M141.80 314.50 V283.64 A1.85 1.85 0 0 1 145.50 283.64 V314.50 Z" fill="#fe5b2c"/><path d="M162.61 314.50 V240.87 A1.85 1.85 0 0 1 166.31 240.87 V314.50 Z" fill="#6c5cfc"/><path d="M167.11 314.50 V258.48 A1.85 1.85 0 0 1 170.81 258.48 V314.50 Z" fill="#fe5b2c"/><path d="M187.92 314.50 V253.45 A1.85 1.85 0 0 1 191.62 253.45 V314.50 Z" fill="#6c5cfc"/><path d="M192.42 314.50 V266.03 A1.85 1.85 0 0 1 196.12 266.03 V314.50 Z" fill="#fe5b2c"/><path d="M213.23 314.50 V190.55 A1.85 1.85 0 0 1 216.93 190.55 V314.50 Z" fill="#6c5cfc"/><path d="M217.73 314.50 V253.45 A1.85 1.85 0 0 1 221.43 253.45 V314.50 Z" fill="#fe5b2c"/><path d="M238.54 314.50 V253.45 A1.85 1.85 0 0 1 242.24 253.45 V314.50 Z" fill="#6c5cfc"/><path d="M243.04 314.50 V266.03 A1.85 1.85 0 0 1 246.74 266.03 V314.50 Z" fill="#fe5b2c"/><path d="M263.85 314.50 V240.87 A1.85 1.85 0 0 1 267.55 240.87 V314.50 Z" fill="#6c5cfc"/><path d="M268.35 314.50 V258.48 A1.85 1.85 0 0 1 272.05 258.48 V314.50 Z" fill="#fe5b2c"/><path d="M289.16 314.50 V266.03 A1.85 1.85 0 0 1 292.86 266.03 V314.50 Z" fill="#6c5cfc"/><path d="M293.66 314.50 V283.64 A1.85 1.85 0 0 1 297.36 283.64 V314.50 Z" fill="#fe5b2c"/><path d="M314.47 314.50 V228.29 A1.85 1.85 0 0 1 318.17 228.29 V314.50 Z" fill="#6c5cfc"/><path d="M318.97 314.50 V278.61 A1.85 1.85 0 0 1 322.67 278.61 V314.50 Z" fill="#fe5b2c"/><path d="M339.78 314.50 V266.03 A1.85 1.85 0 0 1 343.48 266.03 V314.50 Z" fill="#6c5cfc"/><path d="M344.28 314.50 V283.64 A1.85 1.85 0 0 1 347.98 283.64 V314.50 Z" fill="#fe5b2c"/><path d="M365.09 314.50 V240.87 A1.85 1.85 0 0 1 368.79 240.87 V314.50 Z" fill="#6c5cfc"/><path d="M369.59 314.50 V258.48 A1.85 1.85 0 0 1 373.29 258.48 V314.50 Z" fill="#fe5b2c"/><path d="M390.40 314.50 V253.45 A1.85 1.85 0 0 1 394.10 253.45 V314.50 Z" fill="#6c5cfc"/><path d="M394.90 314.50 V266.03 A1.85 1.85 0 0 1 398.60 266.03 V314.50 Z" fill="#fe5b2c"/><path d="M415.71 314.50 V190.55 A1.85 1.85 0 0 1 419.41 190.55 V314.50 Z" fill="#6c5cfc"/><path d="M420.21 314.50 V253.45 A1.85 1.85 0 0 1 423.91 253.45 V314.50 Z" fill="#fe5b2c"/></svg>
<div class="a card" style="left:455.00px;top:135.40px;width:162.80px;height:206.60px"></div>
<div class="t" style="top:145px;font-size:7.75px;color:#2c313c;left:461.50px;">Upcoming Events</div>
<div class="a" style="left:584.50px;top:142.00px;width:26.50px;height:12.00px;background:#ebe8fe;border-radius:1.5px;"></div>
<div class="t" style="top:146px;font-size:5.89px;color:#8477fa;left:597.75px;transform:translateX(-50%) scaleX(0.935);">View All</div>
<div class="a" style="left:455.00px;top:160.20px;width:162.80px;height:0;border-top:0.5px solid #f3f4f7"></div>
<div class="a" style="left:481.20px;top:175.50px;width:0.70px;height:139.00px;background:#f2f3f7;border-radius:0px;"></div>
<div class="t" style="top:169px;font-size:6.21px;color:#2f3440;left:465.80px;transform:translateX(-50%) scaleX(0.935);-webkit-text-stroke:0.15px #2f3440;">15</div>
<div class="t" style="top:179px;font-size:5.35px;color:#a7abbd;left:465.80px;transform:translateX(-50%) scaleX(0.935);">Jun</div>
<svg class="a" style="left:479.00px;top:169.40px;" width="6" height="6" viewBox="0 0 6 6"><circle cx="3" cy="3" r="2.1" fill="#fff" stroke="#6c5cfc" stroke-width="0.9" opacity="0.85"/></svg>
<div class="t" style="top:170px;font-size:6.42px;color:#4a4f5f;left:490.60px;transform:scaleX(0.935);transform-origin:0 0;">Join us in celebrating John Doe's ...</div>
<div class="t" style="top:180px;font-size:5.35px;color:#a7abbd;left:490.60px;transform:scaleX(0.935);transform-origin:0 0;">10:00AM</div>
<div class="a" style="left:513.00px;top:178.80px;width:24.50px;height:7.00px;background:#fde6e1;border-radius:1.2px;"></div>
<div class="t" style="top:181px;font-size:5.03px;color:#fe5b2c;left:525.25px;transform:translateX(-50%) scaleX(0.935);">Birthday</div>
<svg class="a" style="left:603.00px;top:169.40px;" width="3" height="6" viewBox="0 0 3 6"><circle cx="1.5" cy="1.0" r="0.62" fill="#7c85a0"/><circle cx="1.5" cy="3.0" r="0.62" fill="#7c85a0"/><circle cx="1.5" cy="5.0" r="0.62" fill="#7c85a0"/></svg>
<div class="t" style="top:197px;font-size:6.21px;color:#2f3440;left:465.80px;transform:translateX(-50%) scaleX(0.935);-webkit-text-stroke:0.15px #2f3440;">22</div>
<div class="t" style="top:206px;font-size:5.35px;color:#a7abbd;left:465.80px;transform:translateX(-50%) scaleX(0.935);">Jun</div>
<svg class="a" style="left:479.00px;top:197.20px;" width="6" height="6" viewBox="0 0 6 6"><circle cx="3" cy="3" r="2.1" fill="#fff" stroke="#fe5b2c" stroke-width="0.9" opacity="0.85"/></svg>
<div class="t" style="top:197px;font-size:6.42px;color:#4a4f5f;left:490.60px;transform:scaleX(0.935);transform-origin:0 0;">Office closed in observance of In...</div>
<div class="a" style="left:490.60px;top:206.10px;width:21.80px;height:7.00px;background:#e9e6fe;border-radius:1.2px;"></div>
<div class="t" style="top:208px;font-size:5.03px;color:#6c5cfc;left:501.50px;transform:translateX(-50%) scaleX(0.935);">Holiday</div>
<svg class="a" style="left:603.00px;top:197.20px;" width="3" height="6" viewBox="0 0 3 6"><circle cx="1.5" cy="1.0" r="0.62" fill="#7c85a0"/><circle cx="1.5" cy="3.0" r="0.62" fill="#7c85a0"/><circle cx="1.5" cy="5.0" r="0.62" fill="#7c85a0"/></svg>
<div class="t" style="top:224px;font-size:6.21px;color:#2f3440;left:465.80px;transform:translateX(-50%) scaleX(0.935);-webkit-text-stroke:0.15px #2f3440;">10</div>
<div class="t" style="top:234px;font-size:5.35px;color:#a7abbd;left:465.80px;transform:translateX(-50%) scaleX(0.935);">Jul</div>
<svg class="a" style="left:479.00px;top:224.50px;" width="6" height="6" viewBox="0 0 6 6"><circle cx="3" cy="3" r="2.1" fill="#fff" stroke="#1cc160" stroke-width="0.9" opacity="0.85"/></svg>
<div class="t" style="top:225px;font-size:6.42px;color:#4a4f5f;left:489.00px;transform:scaleX(0.935);transform-origin:0 0;">Family-friendly event with games,...</div>
<div class="t" style="top:235px;font-size:5.35px;color:#a7abbd;left:489.00px;transform:scaleX(0.935);transform-origin:0 0;">09:00AM - 06:00PM</div>
<div class="a" style="left:537.00px;top:234.00px;width:18.00px;height:7.00px;background:#e0f6e9;border-radius:1.2px;"></div>
<div class="t" style="top:236px;font-size:5.03px;color:#1cc160;left:546.00px;transform:translateX(-50%) scaleX(0.935);">Picnic</div>
<svg class="a" style="left:603.00px;top:224.50px;" width="3" height="6" viewBox="0 0 3 6"><circle cx="1.5" cy="1.0" r="0.62" fill="#7c85a0"/><circle cx="1.5" cy="3.0" r="0.62" fill="#7c85a0"/><circle cx="1.5" cy="5.0" r="0.62" fill="#7c85a0"/></svg>
<div class="t" style="top:256px;font-size:6.21px;color:#2f3440;left:465.80px;transform:translateX(-50%) scaleX(0.935);-webkit-text-stroke:0.15px #2f3440;">18</div>
<div class="t" style="top:265px;font-size:5.35px;color:#a7abbd;left:465.80px;transform:translateX(-50%) scaleX(0.935);">Jul</div>
<svg class="a" style="left:479.00px;top:256.00px;" width="6" height="6" viewBox="0 0 6 6"><circle cx="3" cy="3" r="2.1" fill="#fff" stroke="#f6a524" stroke-width="0.9" opacity="0.85"/></svg>
<div class="t" style="top:256px;font-size:6.42px;color:#4a4f5f;left:488.60px;transform:scaleX(0.935);transform-origin:0 0;">National Holiday - Dolore Ipsum</div>
<div class="a" style="left:489.00px;top:265.50px;width:21.70px;height:7.00px;background:#e9e6fe;border-radius:1.2px;"></div>
<div class="t" style="top:267px;font-size:5.03px;color:#6c5cfc;left:499.85px;transform:translateX(-50%) scaleX(0.935);">Holiday</div>
<svg class="a" style="left:603.00px;top:256.00px;" width="3" height="6" viewBox="0 0 3 6"><circle cx="1.5" cy="1.0" r="0.62" fill="#7c85a0"/><circle cx="1.5" cy="3.0" r="0.62" fill="#7c85a0"/><circle cx="1.5" cy="5.0" r="0.62" fill="#7c85a0"/></svg>
<div class="t" style="top:284px;font-size:6.21px;color:#2f3440;left:465.80px;transform:translateX(-50%) scaleX(0.935);-webkit-text-stroke:0.15px #2f3440;">05</div>
<div class="t" style="top:293px;font-size:5.35px;color:#a7abbd;left:465.80px;transform:translateX(-50%) scaleX(0.935);">Aug</div>
<svg class="a" style="left:479.00px;top:284.30px;" width="6" height="6" viewBox="0 0 6 6"><circle cx="3" cy="3" r="2.1" fill="#fff" stroke="#1b9afb" stroke-width="0.9" opacity="0.85"/></svg>
<div class="t" style="top:285px;font-size:6.42px;color:#4a4f5f;left:491.10px;transform:scaleX(0.935);transform-origin:0 0;">John pup birthday - Team Member</div>
<div class="t" style="top:295px;font-size:5.35px;color:#a7abbd;left:491.10px;transform:scaleX(0.935);transform-origin:0 0;">09:00AM</div>
<div class="a" style="left:514.40px;top:293.30px;width:24.70px;height:7.00px;background:#fde6e1;border-radius:1.2px;"></div>
<div class="t" style="top:295px;font-size:5.03px;color:#fe5b2c;left:526.75px;transform:translateX(-50%) scaleX(0.935);">Birthday</div>
<svg class="a" style="left:603.00px;top:284.30px;" width="3" height="6" viewBox="0 0 3 6"><circle cx="1.5" cy="1.0" r="0.62" fill="#7c85a0"/><circle cx="1.5" cy="3.0" r="0.62" fill="#7c85a0"/><circle cx="1.5" cy="5.0" r="0.62" fill="#7c85a0"/></svg>
<div class="t" style="top:314px;font-size:6.21px;color:#2f3440;left:465.80px;transform:translateX(-50%) scaleX(0.935);-webkit-text-stroke:0.15px #2f3440;">20</div>
<div class="t" style="top:324px;font-size:5.35px;color:#a7abbd;left:465.80px;transform:translateX(-50%) scaleX(0.935);">Aug</div>
<svg class="a" style="left:479.00px;top:314.80px;" width="6" height="6" viewBox="0 0 6 6"><circle cx="3" cy="3" r="2.1" fill="#fff" stroke="#f2545b" stroke-width="0.9" opacity="0.85"/></svg>
<div class="t" style="top:315px;font-size:6.42px;color:#4a4f5f;left:491.10px;transform:scaleX(0.935);transform-origin:0 0;">Amet sed no dolor kasd - Et Dolor...</div>
<div class="t" style="top:326px;font-size:5.35px;color:#a7abbd;left:491.10px;transform:scaleX(0.935);transform-origin:0 0;">04:00PM</div>
<div class="a" style="left:514.40px;top:324.70px;width:38.10px;height:7.00px;background:#dfefff;border-radius:1.2px;"></div>
<div class="t" style="top:327px;font-size:5.03px;color:#1b9afb;left:533.45px;transform:translateX(-50%) scaleX(0.935);">Announcement</div>
<svg class="a" style="left:603.00px;top:314.80px;" width="3" height="6" viewBox="0 0 3 6"><circle cx="1.5" cy="1.0" r="0.62" fill="#7c85a0"/><circle cx="1.5" cy="3.0" r="0.62" fill="#7c85a0"/><circle cx="1.5" cy="5.0" r="0.62" fill="#7c85a0"/></svg>
<div class="a card" style="left:628.00px;top:135.20px;width:162.80px;height:206.10px"></div>
<div class="t" style="top:145px;font-size:7.75px;color:#2c313c;left:634.50px;">Employee Work Format</div>
<div class="a" style="left:628.00px;top:159.20px;width:162.80px;height:0;border-top:0.5px solid #f3f4f7"></div>
<svg class="a" style="left:0.00px;top:0.00px;pointer-events:none" width="800" height="600" viewBox="0 0 800 600"><circle cx="709.9" cy="209.9" r="8" fill="none" stroke="#eceef2" stroke-width="0.5"/><circle cx="709.9" cy="209.9" r="16" fill="none" stroke="#eceef2" stroke-width="0.5"/><circle cx="709.9" cy="209.9" r="24" fill="none" stroke="#eceef2" stroke-width="0.5"/><circle cx="709.9" cy="209.9" r="32" fill="none" stroke="#eceef2" stroke-width="0.5"/><circle cx="709.9" cy="209.9" r="40" fill="none" stroke="#eceef2" stroke-width="0.5"/><path d="M709.9 169.9 V249.9 M669.9 209.9 H749.9" stroke="#eceef2" stroke-width="0.5"/><path d="M709.9 209.9 L709.90 173.10 A36.8 36.8 0 0 1 746.70 209.90 Z" fill="#9d8ffc"/><path d="M709.9 209.9 L741.90 209.90 A32 32 0 0 1 709.90 241.90 Z" fill="#ff8a65"/><path d="M709.9 209.9 L709.90 238.40 A28.5 28.5 0 0 1 681.40 209.90 Z" fill="#53b5fb"/><path d="M709.9 209.9 L685.40 209.90 A24.5 24.5 0 0 1 709.90 185.40 Z" fill="#56d08f"/></svg>
<div class="t" style="top:169px;font-size:4.92px;color:#4a4f5e;left:709.90px;transform:translateX(-50%) scaleX(0.935);-webkit-text-stroke:0;opacity:0.85;">250</div>
<div class="t" style="top:177px;font-size:4.92px;color:#4a4f5e;left:709.90px;transform:translateX(-50%) scaleX(0.935);-webkit-text-stroke:0;opacity:0.85;">200</div>
<div class="t" style="top:185px;font-size:4.92px;color:#4a4f5e;left:709.90px;transform:translateX(-50%) scaleX(0.935);-webkit-text-stroke:0;opacity:0.85;">150</div>
<div class="t" style="top:193px;font-size:4.92px;color:#4a4f5e;left:709.90px;transform:translateX(-50%) scaleX(0.935);-webkit-text-stroke:0;opacity:0.85;">100</div>
<div class="t" style="top:201px;font-size:4.92px;color:#4a4f5e;left:709.90px;transform:translateX(-50%) scaleX(0.935);-webkit-text-stroke:0;opacity:0.85;">50</div>
<div class="a" style="left:628.0px;top:262.4px;width:162.8px;border-top:0.6px dashed #f0f1f5"></div>
<svg class="a" style="left:634.30px;top:270.70px;" width="3.6" height="3.6" viewBox="0 0 3.6 3.6"><circle cx="1.8" cy="1.8" r="1.65" fill="#6c5cfc"/></svg>
<div class="t" style="top:270px;font-size:6.42px;color:#3f4555;left:641.40px;transform:scaleX(0.935);transform-origin:0 0;">Remote</div>
<div class="t" style="top:269px;font-size:7.38px;color:#2c313c;right:14.20px;transform:scaleX(0.935);transform-origin:100% 0;-webkit-text-stroke:0.15px;">230</div>
<div class="t" style="top:270px;font-size:5.56px;color:#3bc77e;right:29.40px;transform:scaleX(0.935);transform-origin:100% 0;">4.26%</div>
<svg class="a" style="left:752.70px;top:270.50px;" width="3" height="4" viewBox="0 0 3 4"><path d="M1.5 3.8 V0.5 M0.4 1.6 L1.5 0.4 L2.6 1.6" fill="none" stroke="#3bc77e" stroke-width="0.6"/></svg>
<div class="a" style="left:628.00px;top:282.70px;width:162.80px;height:0;border-top:0.5px solid #f4f5f8"></div>
<svg class="a" style="left:634.30px;top:290.40px;" width="3.6" height="3.6" viewBox="0 0 3.6 3.6"><circle cx="1.8" cy="1.8" r="1.65" fill="#fe5b2c"/></svg>
<div class="t" style="top:289px;font-size:6.42px;color:#3f4555;left:641.40px;transform:scaleX(0.935);transform-origin:0 0;">On Site</div>
<div class="t" style="top:289px;font-size:7.38px;color:#2c313c;right:14.20px;transform:scaleX(0.935);transform-origin:100% 0;-webkit-text-stroke:0.15px;">200</div>
<div class="t" style="top:290px;font-size:5.56px;color:#3bc77e;right:29.40px;transform:scaleX(0.935);transform-origin:100% 0;">2.43%</div>
<svg class="a" style="left:752.70px;top:290.20px;" width="3" height="4" viewBox="0 0 3 4"><path d="M1.5 3.8 V0.5 M0.4 1.6 L1.5 0.4 L2.6 1.6" fill="none" stroke="#3bc77e" stroke-width="0.6"/></svg>
<div class="a" style="left:628.00px;top:302.40px;width:162.80px;height:0;border-top:0.5px solid #f4f5f8"></div>
<svg class="a" style="left:634.30px;top:310.10px;" width="3.6" height="3.6" viewBox="0 0 3.6 3.6"><circle cx="1.8" cy="1.8" r="1.65" fill="#1b9afb"/></svg>
<div class="t" style="top:309px;font-size:6.42px;color:#3f4555;left:641.40px;transform:scaleX(0.935);transform-origin:0 0;">Hybrid</div>
<div class="t" style="top:309px;font-size:7.38px;color:#2c313c;right:14.20px;transform:scaleX(0.935);transform-origin:100% 0;-webkit-text-stroke:0.15px;">178</div>
<div class="t" style="top:310px;font-size:5.56px;color:#f2545b;right:29.40px;transform:scaleX(0.935);transform-origin:100% 0;">0.93%</div>
<svg class="a" style="left:752.70px;top:309.90px;" width="3" height="4" viewBox="0 0 3 4"><path d="M1.5 0.2 V3.5 M0.4 2.4 L1.5 3.6 L2.6 2.4" fill="none" stroke="#f2545b" stroke-width="0.6"/></svg>
<div class="a" style="left:628.00px;top:322.10px;width:162.80px;height:0;border-top:0.5px solid #f4f5f8"></div>
<svg class="a" style="left:634.30px;top:329.60px;" width="3.6" height="3.6" viewBox="0 0 3.6 3.6"><circle cx="1.8" cy="1.8" r="1.65" fill="#1cc160"/></svg>
<div class="t" style="top:329px;font-size:6.42px;color:#3f4555;left:641.40px;transform:scaleX(0.935);transform-origin:0 0;">Shift Work</div>
<div class="t" style="top:328px;font-size:7.38px;color:#2c313c;right:14.20px;transform:scaleX(0.935);transform-origin:100% 0;-webkit-text-stroke:0.15px;">153</div>
<div class="t" style="top:329px;font-size:5.56px;color:#3bc77e;right:29.40px;transform:scaleX(0.935);transform-origin:100% 0;">8.84%</div>
<svg class="a" style="left:752.70px;top:329.40px;" width="3" height="4" viewBox="0 0 3 4"><path d="M1.5 3.8 V0.5 M0.4 1.6 L1.5 0.4 L2.6 1.6" fill="none" stroke="#3bc77e" stroke-width="0.6"/></svg>
<div class="a card" style="left:109.00px;top:352.90px;width:162.80px;height:181.50px"></div>
<div class="t" style="top:363px;font-size:7.75px;color:#2c313c;left:115.60px;">Meetings Schedule</div>
<div class="a" style="left:238.40px;top:359.90px;width:26.80px;height:11.90px;background:#ebe8fe;border-radius:1.5px;"></div>
<div class="t" style="top:364px;font-size:5.89px;color:#8477fa;left:251.80px;transform:translateX(-50%) scaleX(0.935);">View All</div>
<div class="a" style="left:109.00px;top:378.40px;width:162.80px;height:0;border-top:0.5px solid #f3f4f7"></div>
<div class="a" style="left:115.60px;top:385.90px;width:16.40px;height:16.40px;background:#fde1e4;border-radius:1.2px;"></div>
<svg class="a" style="left:120.10px;top:391.50px;" width="7" height="5.6" viewBox="0 0 7 5.6"><g fill="#f7a5aa" stroke="#f2545b" stroke-width="0.8" stroke-linejoin="round"><rect x="0.5" y="0.6" width="4.1" height="4.3" rx="0.6"/><path d="M4.6 2.1 L6.5 1.1 V4.4 L4.6 3.4 Z"/></g></svg>
<div class="t" style="top:388px;font-size:6.42px;color:#3f4555;left:139.00px;transform:scaleX(0.935);transform-origin:0 0;">Lead Meeting</div>
<div class="t" style="top:395px;font-size:5.99px;color:#939cd3;left:139.00px;transform:scaleX(0.935);transform-origin:0 0;">03 Feb(9.00am-10.00am)</div>
<div class="a" style="left:234.10px;top:388.00px;width:31.10px;height:11.90px;background:#6c5cfc;border-radius:1.5px;"></div>
<div class="t" style="top:391px;font-size:5.99px;color:#fff;left:249.65px;transform:translateX(-50%) scaleX(0.935);">Join Now</div>
<div class="a" style="left:115.60px;top:411.00px;width:16.40px;height:16.40px;background:#dcefff;border-radius:1.2px;"></div>
<svg class="a" style="left:120.90px;top:415.90px;" width="7" height="7" viewBox="0 0 7 7"><g fill="#2b9bf4"><path d="M1.2 0.3 L2.5 0.2 L3 1.9 L2.1 2.6 C2.5 3.6 3.2 4.3 4.2 4.7 L4.9 3.8 L6.6 4.3 L6.5 5.6 C6.4 6.2 5.8 6.5 5.2 6.4 C2.8 6 0.8 4 0.4 1.6 C0.3 1 0.6 0.4 1.2 0.3 Z"/></g></svg>
<div class="t" style="top:413px;font-size:6.42px;color:#3f4555;left:139.00px;transform:scaleX(0.935);transform-origin:0 0;">Project Meeting</div>
<div class="t" style="top:420px;font-size:5.99px;color:#939cd3;left:139.00px;transform:scaleX(0.935);transform-origin:0 0;">04 Feb(9.00am-10.00am)</div>
<div class="a" style="left:234.10px;top:413.10px;width:31.10px;height:11.90px;background:#f3f4f7;border-radius:1.5px;"></div>
<div class="t" style="top:416px;font-size:5.99px;color:#4f5566;left:249.65px;transform:translateX(-50%) scaleX(0.935);">Join Now</div>
<div class="a" style="left:115.60px;top:436.10px;width:16.40px;height:16.40px;background:#fde1e4;border-radius:1.2px;"></div>
<svg class="a" style="left:120.10px;top:441.70px;" width="7" height="5.6" viewBox="0 0 7 5.6"><g fill="#f7a5aa" stroke="#f2545b" stroke-width="0.8" stroke-linejoin="round"><rect x="0.5" y="0.6" width="4.1" height="4.3" rx="0.6"/><path d="M4.6 2.1 L6.5 1.1 V4.4 L4.6 3.4 Z"/></g></svg>
<div class="t" style="top:438px;font-size:6.42px;color:#3f4555;left:139.00px;transform:scaleX(0.935);transform-origin:0 0;">Team Meeting</div>
<div class="t" style="top:446px;font-size:5.99px;color:#939cd3;left:139.00px;transform:scaleX(0.935);transform-origin:0 0;">05 Feb(9.00am-10.00am)</div>
<div class="a" style="left:234.10px;top:438.20px;width:31.10px;height:11.90px;background:#f3f4f7;border-radius:1.5px;"></div>
<div class="t" style="top:441px;font-size:5.99px;color:#4f5566;left:249.65px;transform:translateX(-50%) scaleX(0.935);">Join Now</div>
<div class="a" style="left:115.60px;top:461.20px;width:16.40px;height:16.40px;background:#dcefff;border-radius:1.2px;"></div>
<svg class="a" style="left:120.90px;top:466.10px;" width="7" height="7" viewBox="0 0 7 7"><g fill="#2b9bf4"><path d="M1.2 0.3 L2.5 0.2 L3 1.9 L2.1 2.6 C2.5 3.6 3.2 4.3 4.2 4.7 L4.9 3.8 L6.6 4.3 L6.5 5.6 C6.4 6.2 5.8 6.5 5.2 6.4 C2.8 6 0.8 4 0.4 1.6 C0.3 1 0.6 0.4 1.2 0.3 Z"/></g></svg>
<div class="t" style="top:463px;font-size:6.42px;color:#3f4555;left:139.00px;transform:scaleX(0.935);transform-origin:0 0;">Client Meeting</div>
<div class="t" style="top:471px;font-size:5.99px;color:#939cd3;left:139.00px;transform:scaleX(0.935);transform-origin:0 0;">06 Feb(9.00am-10.00am)</div>
<div class="a" style="left:234.10px;top:463.30px;width:31.10px;height:11.90px;background:#f3f4f7;border-radius:1.5px;"></div>
<div class="t" style="top:466px;font-size:5.99px;color:#4f5566;left:249.65px;transform:translateX(-50%) scaleX(0.935);">Join Now</div>
<div class="a" style="left:115.60px;top:486.30px;width:16.40px;height:16.40px;background:#dcefff;border-radius:1.2px;"></div>
<svg class="a" style="left:120.90px;top:491.20px;" width="7" height="7" viewBox="0 0 7 7"><g fill="#2b9bf4"><path d="M1.2 0.3 L2.5 0.2 L3 1.9 L2.1 2.6 C2.5 3.6 3.2 4.3 4.2 4.7 L4.9 3.8 L6.6 4.3 L6.5 5.6 C6.4 6.2 5.8 6.5 5.2 6.4 C2.8 6 0.8 4 0.4 1.6 C0.3 1 0.6 0.4 1.2 0.3 Z"/></g></svg>
<div class="t" style="top:488px;font-size:6.42px;color:#3f4555;left:139.00px;transform:scaleX(0.935);transform-origin:0 0;">Client Meeting</div>
<div class="t" style="top:496px;font-size:5.99px;color:#939cd3;left:139.00px;transform:scaleX(0.935);transform-origin:0 0;">06 Feb(9.00am-10.00am)</div>
<div class="a" style="left:234.10px;top:488.40px;width:31.10px;height:11.90px;background:#f3f4f7;border-radius:1.5px;"></div>
<div class="t" style="top:491px;font-size:5.99px;color:#4f5566;left:249.65px;transform:translateX(-50%) scaleX(0.935);">Join Now</div>
<div class="a" style="left:115.60px;top:511.40px;width:16.40px;height:16.40px;background:#dcefff;border-radius:1.2px;"></div>
<svg class="a" style="left:120.90px;top:516.30px;" width="7" height="7" viewBox="0 0 7 7"><g fill="#2b9bf4"><path d="M1.2 0.3 L2.5 0.2 L3 1.9 L2.1 2.6 C2.5 3.6 3.2 4.3 4.2 4.7 L4.9 3.8 L6.6 4.3 L6.5 5.6 C6.4 6.2 5.8 6.5 5.2 6.4 C2.8 6 0.8 4 0.4 1.6 C0.3 1 0.6 0.4 1.2 0.3 Z"/></g></svg>
<div class="t" style="top:513px;font-size:6.42px;color:#3f4555;left:139.00px;transform:scaleX(0.935);transform-origin:0 0;">Project Meeting</div>
<div class="t" style="top:521px;font-size:5.99px;color:#939cd3;left:139.00px;transform:scaleX(0.935);transform-origin:0 0;">04 Feb(9.00am-10.00am)</div>
<div class="a" style="left:234.10px;top:513.50px;width:31.10px;height:11.90px;background:#f3f4f7;border-radius:1.5px;"></div>
<div class="t" style="top:517px;font-size:5.99px;color:#4f5566;left:249.65px;transform:translateX(-50%) scaleX(0.935);">Join Now</div>
<div class="a card" style="left:282.00px;top:353.10px;width:335.80px;height:181.20px"></div>
<div class="t" style="top:363px;font-size:7.75px;color:#2c313c;left:288.70px;">Leave Request</div>
<div class="a" style="left:583.90px;top:359.20px;width:27.10px;height:12.50px;background:#f3f4f7;border-radius:1.5px;"></div>
<div class="t" style="top:364px;font-size:5.89px;color:#4f5566;left:597.45px;transform:translateX(-50%) scaleX(0.935);">View All</div>
<div class="a" style="left:282.00px;top:378.30px;width:335.80px;height:0;border-top:0.5px solid #f3f4f7"></div>
<div class="t" style="top:385px;font-size:6.42px;color:#3f4555;left:289.60px;transform:scaleX(0.935);transform-origin:0 0;">Employee</div>
<div class="t" style="top:385px;font-size:6.42px;color:#3f4555;left:386.30px;transform:scaleX(0.935);transform-origin:0 0;">Type</div>
<div class="t" style="top:385px;font-size:6.42px;color:#3f4555;left:456.70px;transform:scaleX(0.935);transform-origin:0 0;">Days</div>
<div class="t" style="top:385px;font-size:6.42px;color:#3f4555;left:497.70px;transform:scaleX(0.935);transform-origin:0 0;">Status</div>
<div class="t" style="top:385px;font-size:6.42px;color:#3f4555;left:550.30px;transform:scaleX(0.935);transform-origin:0 0;">Actions</div>
<div class="a" style="left:282.00px;top:398.20px;width:335.80px;height:0;border-top:0.5px solid #f3f4f7"></div>
<svg class="a" style="left:289.40px;top:402.70px;" width="11.8" height="11.8" viewBox="0 0 12 12"><defs><clipPath id="a2894_4027"><rect width="12" height="12" rx="1.6"/></clipPath></defs><g clip-path="url(#a2894_4027)"><rect width="12" height="12" rx="1.6" fill="#f9c27f"/><path d="M2.6 10.5 C1.6 6 2.4 1.8 6 1.8 C9.6 1.8 10.4 6 9.4 10.5 Z" fill="#4a1c22"/><path d="M2.2 12.5 C2.6 9.4 9.4 9.4 9.8 12.5 Z" fill="#e2b23c"/><path d="M5.2 8 H6.8 V9.8 H5.2 Z" fill="#f7d5bd"/><ellipse cx="6" cy="6" rx="2.3" ry="2.7" fill="#f7d5bd"/><path d="M3.5 5.6 C3.6 3.2 5 2.6 6.2 2.6 C7.6 2.6 8.6 3.6 8.5 5.4 C7.4 4.8 6.4 4 6 3.4 C5.4 4.4 4.6 5.2 3.5 5.6 Z" fill="#4a1c22"/><circle cx="5.1" cy="6.2" r="0.28" fill="#3a2a2a"/><circle cx="6.9" cy="6.2" r="0.28" fill="#3a2a2a"/></g></svg>
<div class="t" style="top:405px;font-size:6.42px;color:#636878;left:304.50px;transform:scaleX(0.935);transform-origin:0 0;">Socrates Itumay</div>
<div class="t" style="top:413px;font-size:6.42px;color:#555a6a;left:304.50px;transform:scaleX(0.935);transform-origin:0 0;">Team Lead</div>
<div class="t" style="top:409px;font-size:6.31px;color:#636878;left:386.40px;transform:scaleX(0.935);transform-origin:0 0;">Sick Leave</div>
<div class="t" style="top:409px;font-size:6.31px;color:#575c6c;left:456.80px;transform:scaleX(0.935);transform-origin:0 0;">2 Days</div>
<div class="a" style="left:498.10px;top:408.00px;width:27.00px;height:7.70px;background:#dcf5e6;border-radius:1.2px;"></div>
<div class="t" style="top:410px;font-size:5.14px;color:#1cc160;left:511.60px;transform:translateX(-50%) scaleX(0.935);-webkit-text-stroke:0.15px;">Approved</div>
<div class="a" style="left:550.40px;top:405.95px;width:11.90px;height:11.90px;background:#e8e5fe;border-radius:6px;"></div>
<svg class="a" style="left:553.85px;top:410.20px;" width="5" height="3.4" viewBox="0 0 5 3.4"><path d="M0.2 1.7 C1.4 -0.3 3.6 -0.3 4.8 1.7 C3.6 3.7 1.4 3.7 0.2 1.7 Z" fill="#8b7ffa"/><circle cx="2.5" cy="1.7" r="0.7" fill="#e8e5fe"/></svg>
<div class="a" style="left:566.05px;top:405.95px;width:11.90px;height:11.90px;background:#dcf5e6;border-radius:6px;"></div>
<svg class="a" style="left:569.80px;top:409.70px;" width="4.4" height="4.4" viewBox="0 0 4.4 4.4"><path d="M0.5 3.9 L0.7 2.8 L3 0.5 L3.9 1.4 L1.6 3.7 Z" fill="#1cc160"/></svg>
<div class="a" style="left:581.95px;top:405.95px;width:11.90px;height:11.90px;background:#fde1e3;border-radius:6px;"></div>
<svg class="a" style="left:585.90px;top:409.50px;" width="4" height="4.8" viewBox="0 0 4 4.8"><path d="M0.2 1 H3.8 M1.4 1 V0.3 H2.6 V1" stroke="#f2545b" stroke-width="0.5" fill="none"/><path d="M0.7 1.3 H3.3 L3 4.5 H1 Z" fill="#f2545b"/></svg>
<div class="a" style="left:282.00px;top:425.20px;width:335.80px;height:0;border-top:0.5px solid #f5f6f9"></div>
<svg class="a" style="left:289.40px;top:429.90px;" width="11.8" height="11.8" viewBox="0 0 12 12"><defs><clipPath id="a2894_4299"><rect width="12" height="12" rx="1.6"/></clipPath></defs><g clip-path="url(#a2894_4299)"><rect width="12" height="12" rx="1.6" fill="#fbeef8"/><path d="M2.6 10.5 C1.6 6 2.4 1.8 6 1.8 C9.6 1.8 10.4 6 9.4 10.5 Z" fill="#3a2422"/><path d="M2.2 12.5 C2.6 9.4 9.4 9.4 9.8 12.5 Z" fill="#1e2228"/><path d="M5.2 8 H6.8 V9.8 H5.2 Z" fill="#f7d5bd"/><ellipse cx="6" cy="6" rx="2.3" ry="2.7" fill="#f7d5bd"/><path d="M3.5 5.6 C3.6 3.2 5 2.6 6.2 2.6 C7.6 2.6 8.6 3.6 8.5 5.4 C7.4 4.8 6.4 4 6 3.4 C5.4 4.4 4.6 5.2 3.5 5.6 Z" fill="#3a2422"/><circle cx="5.1" cy="6.2" r="0.28" fill="#3a2a2a"/><circle cx="6.9" cy="6.2" r="0.28" fill="#3a2a2a"/></g></svg>
<div class="t" style="top:432px;font-size:6.42px;color:#636878;left:304.50px;transform:scaleX(0.935);transform-origin:0 0;">Samantha Paul</div>
<div class="t" style="top:441px;font-size:6.42px;color:#555a6a;left:304.50px;transform:scaleX(0.935);transform-origin:0 0;">Sr.UI Developer</div>
<div class="t" style="top:436px;font-size:6.31px;color:#636878;left:386.40px;transform:scaleX(0.935);transform-origin:0 0;">Casual Leave</div>
<div class="t" style="top:436px;font-size:6.31px;color:#575c6c;left:456.80px;transform:scaleX(0.935);transform-origin:0 0;">1 Day</div>
<div class="a" style="left:498.10px;top:435.20px;width:23.40px;height:7.70px;background:#fdecd9;border-radius:1.2px;"></div>
<div class="t" style="top:437px;font-size:5.14px;color:#f6a524;left:509.80px;transform:translateX(-50%) scaleX(0.935);-webkit-text-stroke:0.15px;">Pending</div>
<div class="a" style="left:550.40px;top:433.15px;width:11.90px;height:11.90px;background:#e8e5fe;border-radius:6px;"></div>
<svg class="a" style="left:553.85px;top:437.40px;" width="5" height="3.4" viewBox="0 0 5 3.4"><path d="M0.2 1.7 C1.4 -0.3 3.6 -0.3 4.8 1.7 C3.6 3.7 1.4 3.7 0.2 1.7 Z" fill="#8b7ffa"/><circle cx="2.5" cy="1.7" r="0.7" fill="#e8e5fe"/></svg>
<div class="a" style="left:566.05px;top:433.15px;width:11.90px;height:11.90px;background:#dcf5e6;border-radius:6px;"></div>
<svg class="a" style="left:569.80px;top:436.90px;" width="4.4" height="4.4" viewBox="0 0 4.4 4.4"><path d="M0.5 3.9 L0.7 2.8 L3 0.5 L3.9 1.4 L1.6 3.7 Z" fill="#1cc160"/></svg>
<div class="a" style="left:581.95px;top:433.15px;width:11.90px;height:11.90px;background:#fde1e3;border-radius:6px;"></div>
<svg class="a" style="left:585.90px;top:436.70px;" width="4" height="4.8" viewBox="0 0 4 4.8"><path d="M0.2 1 H3.8 M1.4 1 V0.3 H2.6 V1" stroke="#f2545b" stroke-width="0.5" fill="none"/><path d="M0.7 1.3 H3.3 L3 4.5 H1 Z" fill="#f2545b"/></svg>
<div class="a" style="left:282.00px;top:452.40px;width:335.80px;height:0;border-top:0.5px solid #f5f6f9"></div>
<svg class="a" style="left:289.40px;top:457.50px;" width="11.8" height="11.8" viewBox="0 0 12 12"><defs><clipPath id="a2894_4575"><rect width="12" height="12" rx="1.6"/></clipPath></defs><g clip-path="url(#a2894_4575)"><rect width="12" height="12" rx="1.6" fill="#fbe8d2"/><path d="M2.2 12.5 C2.6 9.4 9.4 9.4 9.8 12.5 Z" fill="#efe9e0"/><path d="M5.2 8 H6.8 V9.8 H5.2 Z" fill="#f7d5bd"/><ellipse cx="6" cy="6" rx="2.3" ry="2.7" fill="#f7d5bd"/><path d="M3.5 6 C3.1 3 4.5 1.9 6.1 1.9 C7.8 1.9 9 3 8.5 6 C8.2 4.6 7.6 4 6 4 C4.4 4 3.8 4.6 3.5 6 Z" fill="#7a4a2a"/><circle cx="5.1" cy="6.2" r="0.28" fill="#3a2a2a"/><circle cx="6.9" cy="6.2" r="0.28" fill="#3a2a2a"/></g></svg>
<div class="t" style="top:460px;font-size:6.42px;color:#636878;left:304.50px;transform:scaleX(0.935);transform-origin:0 0;">Gray Noal</div>
<div class="t" style="top:468px;font-size:6.42px;color:#555a6a;left:304.50px;transform:scaleX(0.935);transform-origin:0 0;">Java Developer</div>
<div class="t" style="top:464px;font-size:6.31px;color:#636878;left:386.40px;transform:scaleX(0.935);transform-origin:0 0;">Paternity Leave</div>
<div class="t" style="top:464px;font-size:6.31px;color:#575c6c;left:456.80px;transform:scaleX(0.935);transform-origin:0 0;">5 Days</div>
<div class="a" style="left:498.10px;top:462.80px;width:27.00px;height:7.70px;background:#dcf5e6;border-radius:1.2px;"></div>
<div class="t" style="top:465px;font-size:5.14px;color:#1cc160;left:511.60px;transform:translateX(-50%) scaleX(0.935);-webkit-text-stroke:0.15px;">Approved</div>
<div class="a" style="left:550.40px;top:460.75px;width:11.90px;height:11.90px;background:#e8e5fe;border-radius:6px;"></div>
<svg class="a" style="left:553.85px;top:465.00px;" width="5" height="3.4" viewBox="0 0 5 3.4"><path d="M0.2 1.7 C1.4 -0.3 3.6 -0.3 4.8 1.7 C3.6 3.7 1.4 3.7 0.2 1.7 Z" fill="#8b7ffa"/><circle cx="2.5" cy="1.7" r="0.7" fill="#e8e5fe"/></svg>
<div class="a" style="left:566.05px;top:460.75px;width:11.90px;height:11.90px;background:#dcf5e6;border-radius:6px;"></div>
<svg class="a" style="left:569.80px;top:464.50px;" width="4.4" height="4.4" viewBox="0 0 4.4 4.4"><path d="M0.5 3.9 L0.7 2.8 L3 0.5 L3.9 1.4 L1.6 3.7 Z" fill="#1cc160"/></svg>
<div class="a" style="left:581.95px;top:460.75px;width:11.90px;height:11.90px;background:#fde1e3;border-radius:6px;"></div>
<svg class="a" style="left:585.90px;top:464.30px;" width="4" height="4.8" viewBox="0 0 4 4.8"><path d="M0.2 1 H3.8 M1.4 1 V0.3 H2.6 V1" stroke="#f2545b" stroke-width="0.5" fill="none"/><path d="M0.7 1.3 H3.3 L3 4.5 H1 Z" fill="#f2545b"/></svg>
<div class="a" style="left:282.00px;top:480.00px;width:335.80px;height:0;border-top:0.5px solid #f5f6f9"></div>
<svg class="a" style="left:289.40px;top:484.60px;" width="11.8" height="11.8" viewBox="0 0 12 12"><defs><clipPath id="a2894_4846"><rect width="12" height="12" rx="1.6"/></clipPath></defs><g clip-path="url(#a2894_4846)"><rect width="12" height="12" rx="1.6" fill="#c9cdf2"/><path d="M2.2 12.5 C2.6 9.4 9.4 9.4 9.8 12.5 Z" fill="#22242c"/><path d="M5.2 8 H6.8 V9.8 H5.2 Z" fill="#f7d5bd"/><ellipse cx="6" cy="6" rx="2.3" ry="2.7" fill="#f7d5bd"/><path d="M3.5 6 C3.1 3 4.5 1.9 6.1 1.9 C7.8 1.9 9 3 8.5 6 C8.2 4.6 7.6 4 6 4 C4.4 4 3.8 4.6 3.5 6 Z" fill="#1b1b22"/><circle cx="5.1" cy="6.2" r="0.28" fill="#3a2a2a"/><circle cx="6.9" cy="6.2" r="0.28" fill="#3a2a2a"/></g></svg>
<div class="t" style="top:487px;font-size:6.42px;color:#636878;left:304.50px;transform:scaleX(0.935);transform-origin:0 0;">Gray Noal</div>
<div class="t" style="top:495px;font-size:6.42px;color:#555a6a;left:304.50px;transform:scaleX(0.935);transform-origin:0 0;">React Developer</div>
<div class="t" style="top:491px;font-size:6.31px;color:#636878;left:386.40px;transform:scaleX(0.935);transform-origin:0 0;">Personal Leave</div>
<div class="t" style="top:491px;font-size:6.31px;color:#575c6c;left:456.80px;transform:scaleX(0.935);transform-origin:0 0;">2 Days</div>
<div class="a" style="left:498.10px;top:489.90px;width:25.30px;height:7.70px;background:#fde1e3;border-radius:1.2px;"></div>
<div class="t" style="top:492px;font-size:5.14px;color:#f2545b;left:510.75px;transform:translateX(-50%) scaleX(0.935);-webkit-text-stroke:0.15px;">Rejected</div>
<div class="a" style="left:550.40px;top:487.85px;width:11.90px;height:11.90px;background:#e8e5fe;border-radius:6px;"></div>
<svg class="a" style="left:553.85px;top:492.10px;" width="5" height="3.4" viewBox="0 0 5 3.4"><path d="M0.2 1.7 C1.4 -0.3 3.6 -0.3 4.8 1.7 C3.6 3.7 1.4 3.7 0.2 1.7 Z" fill="#8b7ffa"/><circle cx="2.5" cy="1.7" r="0.7" fill="#e8e5fe"/></svg>
<div class="a" style="left:566.05px;top:487.85px;width:11.90px;height:11.90px;background:#dcf5e6;border-radius:6px;"></div>
<svg class="a" style="left:569.80px;top:491.60px;" width="4.4" height="4.4" viewBox="0 0 4.4 4.4"><path d="M0.5 3.9 L0.7 2.8 L3 0.5 L3.9 1.4 L1.6 3.7 Z" fill="#1cc160"/></svg>
<div class="a" style="left:581.95px;top:487.85px;width:11.90px;height:11.90px;background:#fde1e3;border-radius:6px;"></div>
<svg class="a" style="left:585.90px;top:491.40px;" width="4" height="4.8" viewBox="0 0 4 4.8"><path d="M0.2 1 H3.8 M1.4 1 V0.3 H2.6 V1" stroke="#f2545b" stroke-width="0.5" fill="none"/><path d="M0.7 1.3 H3.3 L3 4.5 H1 Z" fill="#f2545b"/></svg>
<div class="a" style="left:282.00px;top:507.10px;width:335.80px;height:0;border-top:0.5px solid #f5f6f9"></div>
<svg class="a" style="left:289.40px;top:511.70px;" width="11.8" height="11.8" viewBox="0 0 12 12"><defs><clipPath id="a2894_5117"><rect width="12" height="12" rx="1.6"/></clipPath></defs><g clip-path="url(#a2894_5117)"><rect width="12" height="12" rx="1.6" fill="#f1d4d6"/><path d="M2.6 10.5 C1.6 6 2.4 1.8 6 1.8 C9.6 1.8 10.4 6 9.4 10.5 Z" fill="#6a3e2e"/><path d="M2.2 12.5 C2.6 9.4 9.4 9.4 9.8 12.5 Z" fill="#a44a44"/><path d="M5.2 8 H6.8 V9.8 H5.2 Z" fill="#f7d5bd"/><ellipse cx="6" cy="6" rx="2.3" ry="2.7" fill="#f7d5bd"/><path d="M3.5 5.6 C3.6 3.2 5 2.6 6.2 2.6 C7.6 2.6 8.6 3.6 8.5 5.4 C7.4 4.8 6.4 4 6 3.4 C5.4 4.4 4.6 5.2 3.5 5.6 Z" fill="#6a3e2e"/><circle cx="5.1" cy="6.2" r="0.28" fill="#3a2a2a"/><circle cx="6.9" cy="6.2" r="0.28" fill="#3a2a2a"/></g></svg>
<div class="t" style="top:514px;font-size:6.42px;color:#636878;left:304.50px;transform:scaleX(0.935);transform-origin:0 0;">Pope Johnson</div>
<div class="t" style="top:522px;font-size:6.42px;color:#555a6a;left:304.50px;transform:scaleX(0.935);transform-origin:0 0;">Jr.Java Developer</div>
<div class="t" style="top:518px;font-size:6.31px;color:#636878;left:386.40px;transform:scaleX(0.935);transform-origin:0 0;">Gifted Leave</div>
<div class="t" style="top:518px;font-size:6.31px;color:#575c6c;left:456.80px;transform:scaleX(0.935);transform-origin:0 0;">2 Days</div>
<div class="a" style="left:498.10px;top:517.00px;width:23.40px;height:7.70px;background:#fdecd9;border-radius:1.2px;"></div>
<div class="t" style="top:519px;font-size:5.14px;color:#f6a524;left:509.80px;transform:translateX(-50%) scaleX(0.935);-webkit-text-stroke:0.15px;">Pending</div>
<div class="a" style="left:550.40px;top:514.95px;width:11.90px;height:11.90px;background:#e8e5fe;border-radius:6px;"></div>
<svg class="a" style="left:553.85px;top:519.20px;" width="5" height="3.4" viewBox="0 0 5 3.4"><path d="M0.2 1.7 C1.4 -0.3 3.6 -0.3 4.8 1.7 C3.6 3.7 1.4 3.7 0.2 1.7 Z" fill="#8b7ffa"/><circle cx="2.5" cy="1.7" r="0.7" fill="#e8e5fe"/></svg>
<div class="a" style="left:566.05px;top:514.95px;width:11.90px;height:11.90px;background:#dcf5e6;border-radius:6px;"></div>
<svg class="a" style="left:569.80px;top:518.70px;" width="4.4" height="4.4" viewBox="0 0 4.4 4.4"><path d="M0.5 3.9 L0.7 2.8 L3 0.5 L3.9 1.4 L1.6 3.7 Z" fill="#1cc160"/></svg>
<div class="a" style="left:581.95px;top:514.95px;width:11.90px;height:11.90px;background:#fde1e3;border-radius:6px;"></div>
<svg class="a" style="left:585.90px;top:518.50px;" width="4" height="4.8" viewBox="0 0 4 4.8"><path d="M0.2 1 H3.8 M1.4 1 V0.3 H2.6 V1" stroke="#f2545b" stroke-width="0.5" fill="none"/><path d="M0.7 1.3 H3.3 L3 4.5 H1 Z" fill="#f2545b"/></svg>
<div class="a card" style="left:628.00px;top:353.00px;width:162.80px;height:180.10px"></div>
<div class="t" style="top:362px;font-size:7.75px;color:#2c313c;left:634.50px;">Recruitment Pipeline</div>
<div class="a" style="left:628.00px;top:377.50px;width:162.80px;height:0;border-top:0.5px solid #f3f4f7"></div>
<div class="a" style="left:634.80px;top:384.70px;width:16.20px;height:16.20px;background:#e9e6fe;border-radius:9px;"></div>
<svg class="a" style="left:639.70px;top:389.50px;" width="6.4" height="6.6" viewBox="0 0 6.4 6.6"><g stroke-width="0.6" stroke-linejoin="round" stroke-linecap="round"><path d="M1 0.4 H3.6 L5 1.8 V6.1 H1 Z" fill="#7b6cfb" fill-opacity="0.25" stroke="#7b6cfb"/><path d="M2 3 L3.4 4 L2 5" stroke="#7b6cfb" fill="none"/></g></svg>
<div class="t" style="top:390px;font-size:6.31px;color:#4a4f5f;left:655.00px;transform:scaleX(0.935);transform-origin:0 0;">Total Applications</div>
<div class="t" style="top:390px;font-size:6.85px;color:#7b6cfb;right:15.80px;transform:scaleX(0.935);transform-origin:100% 0;-webkit-text-stroke:0.2px;">1,982</div>
<div class="a" style="left:634.80px;top:409.70px;width:16.20px;height:16.20px;background:#fee6e0;border-radius:9px;"></div>
<svg class="a" style="left:639.70px;top:414.50px;" width="6.4" height="6.6" viewBox="0 0 6.4 6.6"><g stroke-width="0.6" stroke-linejoin="round" stroke-linecap="round"><circle cx="2.6" cy="1.8" r="1.3" fill="none" stroke="#fe5b2c"/><path d="M0.4 6 C0.6 4.2 4.4 4 4.8 5" fill="none" stroke="#fe5b2c"/><path d="M5.2 3.8 V6.2 M4 5 H6.4" stroke="#fe5b2c"/></g></svg>
<div class="t" style="top:415px;font-size:6.31px;color:#4a4f5f;left:655.00px;transform:scaleX(0.935);transform-origin:0 0;">Recruited</div>
<div class="t" style="top:415px;font-size:6.85px;color:#fe5b2c;right:15.80px;transform:scaleX(0.935);transform-origin:100% 0;-webkit-text-stroke:0.2px;">582</div>
<div class="a" style="left:634.80px;top:434.70px;width:16.20px;height:16.20px;background:#dcf5e6;border-radius:9px;"></div>
<svg class="a" style="left:639.70px;top:439.50px;" width="6.4" height="6.6" viewBox="0 0 6.4 6.6"><g stroke-width="0.6" stroke-linejoin="round" stroke-linecap="round"><rect x="0.8" y="1" width="4.6" height="5.2" rx="0.6" fill="#1cc160" fill-opacity="0.25" stroke="#1cc160"/><path d="M2 1 V0.4 H4.2 V1 M1.9 3.8 L2.8 4.6 L4.3 3" stroke="#1cc160" fill="none"/></g></svg>
<div class="t" style="top:440px;font-size:6.31px;color:#4a4f5f;left:655.00px;transform:scaleX(0.935);transform-origin:0 0;">Short Listed</div>
<div class="t" style="top:440px;font-size:6.85px;color:#1cc160;right:15.80px;transform:scaleX(0.935);transform-origin:100% 0;-webkit-text-stroke:0.2px;">395</div>
<div class="a" style="left:634.80px;top:459.70px;width:16.20px;height:16.20px;background:#feeed9;border-radius:9px;"></div>
<svg class="a" style="left:639.70px;top:464.50px;" width="6.4" height="6.6" viewBox="0 0 6.4 6.6"><g stroke-width="0.6" stroke-linejoin="round" stroke-linecap="round"><path d="M1 0.4 H3.6 L5 1.8 V6.1 H1 Z" fill="#f6a524" fill-opacity="0.25" stroke="#f6a524"/><path d="M2.2 3.4 H3.8 M2.2 4.6 H3.8" stroke="#f6a524"/></g></svg>
<div class="t" style="top:465px;font-size:6.31px;color:#4a4f5f;left:655.00px;transform:scaleX(0.935);transform-origin:0 0;">Rejected</div>
<div class="t" style="top:465px;font-size:6.85px;color:#f6a524;right:15.80px;transform:scaleX(0.935);transform-origin:100% 0;-webkit-text-stroke:0.2px;">905</div>
<div class="a" style="left:634.80px;top:484.70px;width:16.20px;height:16.20px;background:#dfeffe;border-radius:9px;"></div>
<svg class="a" style="left:639.70px;top:489.50px;" width="6.4" height="6.6" viewBox="0 0 6.4 6.6"><g stroke-width="0.6" stroke-linejoin="round" stroke-linecap="round"><rect x="0.9" y="0.5" width="4.6" height="5.6" rx="0.6" fill="none" stroke="#1b9afb"/><path d="M0.6 0.6 L5.8 6" stroke="#1b9afb"/></g></svg>
<div class="t" style="top:490px;font-size:6.31px;color:#4a4f5f;left:655.00px;transform:scaleX(0.935);transform-origin:0 0;">Blocked</div>
<div class="t" style="top:490px;font-size:6.85px;color:#1b9afb;right:15.80px;transform:scaleX(0.935);transform-origin:100% 0;-webkit-text-stroke:0.2px;">582</div>
<div class="a" style="left:634.80px;top:509.70px;width:16.20px;height:16.20px;background:#fde1e3;border-radius:9px;"></div>
<svg class="a" style="left:639.70px;top:514.50px;" width="6.4" height="6.6" viewBox="0 0 6.4 6.6"><g stroke-width="0.6" stroke-linejoin="round" stroke-linecap="round"><rect x="0.3" y="0.6" width="5.8" height="3.9" rx="0.4" fill="#f2545b" stroke="#f2545b"/><path d="M2.2 6 H4.2 M3.2 4.5 V6" stroke="#f2545b"/><path d="M1.3 2.4 H5.1" stroke="#fff" stroke-width="0.5"/></g></svg>
<div class="t" style="top:515px;font-size:6.31px;color:#4a4f5f;left:655.00px;transform:scaleX(0.935);transform-origin:0 0;">Interviewed</div>
<div class="t" style="top:515px;font-size:6.85px;color:#f2545b;right:15.80px;transform:scaleX(0.935);transform-origin:100% 0;-webkit-text-stroke:0.2px;">145</div>
<div class="a card" style="left:109.00px;top:544.70px;width:162.80px;height:60.00px"></div>
<div class="t" style="top:554px;font-size:7.75px;color:#2c313c;left:115.60px;">Leave Requests</div>
<div class="a" style="left:109.00px;top:569.90px;width:162.80px;height:0;border-top:0.5px solid #f3f4f7"></div>
<svg class="a" style="left:115.40px;top:576.90px;" width="11.8" height="11.8" viewBox="0 0 12 12"><defs><clipPath id="a1154_5769"><rect width="12" height="12" rx="1.6"/></clipPath></defs><g clip-path="url(#a1154_5769)"><rect width="12" height="12" rx="1.6" fill="#f9c27f"/><path d="M2.6 10.5 C1.6 6 2.4 1.8 6 1.8 C9.6 1.8 10.4 6 9.4 10.5 Z" fill="#4a1c22"/><path d="M2.2 12.5 C2.6 9.4 9.4 9.4 9.8 12.5 Z" fill="#e2b23c"/><path d="M5.2 8 H6.8 V9.8 H5.2 Z" fill="#f7d5bd"/><ellipse cx="6" cy="6" rx="2.3" ry="2.7" fill="#f7d5bd"/><path d="M3.5 5.6 C3.6 3.2 5 2.6 6.2 2.6 C7.6 2.6 8.6 3.6 8.5 5.4 C7.4 4.8 6.4 4 6 3.4 C5.4 4.4 4.6 5.2 3.5 5.6 Z" fill="#4a1c22"/><circle cx="5.1" cy="6.2" r="0.28" fill="#3a2a2a"/><circle cx="6.9" cy="6.2" r="0.28" fill="#3a2a2a"/></g></svg>
<div class="t" style="top:577px;font-size:6.42px;color:#5c6273;left:134.00px;transform:scaleX(0.935);transform-origin:0 0;">Sarah Taylor</div>
<div class="t" style="top:586px;font-size:6.21px;color:#939cd3;left:134.00px;transform:scaleX(0.935);transform-origin:0 0;">Casual Leave</div>
<div class="a" style="left:235.00px;top:578.90px;width:11.90px;height:11.90px;background:#fff;border-radius:1.5px;border:0.7px solid #5fd394;"></div>
<svg class="a" style="left:238.50px;top:582.60px;" width="5" height="4" viewBox="0 0 5 4"><path d="M0.5 2 L1.9 3.3 L4.5 0.6" fill="none" stroke="#1cc160" stroke-width="0.6"/></svg>
<div class="a" style="left:250.90px;top:578.90px;width:11.90px;height:11.90px;background:#fde1e3;border-radius:1.5px;"></div>
<svg class="a" style="left:254.90px;top:582.90px;" width="4" height="4" viewBox="0 0 4 4"><path d="M0.6 0.6 L3.4 3.4 M3.4 0.6 L0.6 3.4" stroke="#f2545b" stroke-width="0.6"/></svg>
<svg class="a" style="left:115.40px;top:597.50px;" width="11.8" height="11.8" viewBox="0 0 12 12"><defs><clipPath id="a1154_5975"><rect width="12" height="12" rx="1.6"/></clipPath></defs><g clip-path="url(#a1154_5975)"><rect width="12" height="12" rx="1.6" fill="#e8eaf0"/><path d="M2.2 12.5 C2.6 9.4 9.4 9.4 9.8 12.5 Z" fill="#b8bdca"/><path d="M5.2 8 H6.8 V9.8 H5.2 Z" fill="#f7d5bd"/><ellipse cx="6" cy="6" rx="2.3" ry="2.7" fill="#f7d5bd"/><path d="M3.5 6 C3.1 3 4.5 1.9 6.1 1.9 C7.8 1.9 9 3 8.5 6 C8.2 4.6 7.6 4 6 4 C4.4 4 3.8 4.6 3.5 6 Z" fill="#8c92a4"/><circle cx="5.1" cy="6.2" r="0.28" fill="#3a2a2a"/><circle cx="6.9" cy="6.2" r="0.28" fill="#3a2a2a"/></g></svg>
<div class="a card" style="left:282.00px;top:544.60px;width:508.80px;height:60.00px"></div>
<div class="t" style="top:555px;font-size:7.75px;color:#2c313c;left:288.40px;">Employees List</div>
<div class="a" style="left:679.00px;top:551.25px;width:68.50px;height:13.25px;background:#fff;border-radius:1.5px;border:0.6px solid #e6e8ef;"></div>
<div class="t" style="top:556px;font-size:5.89px;color:#aeb3c4;left:684.20px;transform:scaleX(0.935);transform-origin:0 0;">Search Here</div>
<div class="a" style="left:751.00px;top:551.25px;width:33.25px;height:12.50px;background:#6c5cfc;border-radius:1.5px;"></div>
<div class="t" style="top:555px;font-size:5.99px;color:#fff;left:755.60px;transform:scaleX(0.935);transform-origin:0 0;">Sort By</div>
<svg class="a" style="left:775.80px;top:556.60px;" width="3" height="2" viewBox="0 0 3 2"><path d="M0.3 0.3 L1.5 1.5 L2.7 0.3" fill="none" stroke="#fff" stroke-width="0.55"/></svg>
<div class="a" style="left:282.00px;top:571.40px;width:508.80px;height:0;border-top:0.5px solid #f3f4f7"></div>
<div class="t" style="top:578px;font-size:6.31px;color:#3f4555;left:291.40px;transform:scaleX(0.935);transform-origin:0 0;">S.No</div>
<div class="t" style="top:578px;font-size:6.31px;color:#3f4555;left:320.90px;transform:scaleX(0.935);transform-origin:0 0;">Employee Name</div>
<div class="t" style="top:578px;font-size:6.31px;color:#3f4555;left:395.90px;transform:scaleX(0.935);transform-origin:0 0;">Employee Id</div>
<div class="t" style="top:578px;font-size:6.31px;color:#3f4555;left:452.00px;transform:scaleX(0.935);transform-origin:0 0;">Designation</div>
<div class="t" style="top:578px;font-size:6.31px;color:#3f4555;left:518.60px;transform:scaleX(0.935);transform-origin:0 0;">Email</div>
<div class="t" style="top:578px;font-size:6.31px;color:#3f4555;left:611.25px;transform:scaleX(0.935);transform-origin:0 0;">Contact</div>
<div class="t" style="top:578px;font-size:6.31px;color:#3f4555;left:667.00px;transform:scaleX(0.935);transform-origin:0 0;">Salary</div>
<div class="t" style="top:578px;font-size:6.31px;color:#3f4555;left:708.00px;transform:scaleX(0.935);transform-origin:0 0;">Status</div>
<div class="t" style="top:578px;font-size:6.31px;color:#3f4555;left:746.25px;transform:scaleX(0.935);transform-origin:0 0;">Action</div>
<div class="a" style="left:282.00px;top:590.30px;width:508.80px;height:0;border-top:0.5px solid #f0f1f5"></div>
<svg class="a" style="left:321.20px;top:596.80px;" width="11.8" height="11.8" viewBox="0 0 12 12"><defs><clipPath id="a3212_5968"><rect width="12" height="12" rx="1.6"/></clipPath></defs><g clip-path="url(#a3212_5968)"><rect width="12" height="12" rx="1.6" fill="#b7a6e8"/><path d="M2.6 10.5 C1.6 6 2.4 1.8 6 1.8 C9.6 1.8 10.4 6 9.4 10.5 Z" fill="#2a1f2a"/><path d="M2.2 12.5 C2.6 9.4 9.4 9.4 9.8 12.5 Z" fill="#4a3a5a"/><path d="M5.2 8 H6.8 V9.8 H5.2 Z" fill="#f7d5bd"/><ellipse cx="6" cy="6" rx="2.3" ry="2.7" fill="#f7d5bd"/><path d="M3.5 5.6 C3.6 3.2 5 2.6 6.2 2.6 C7.6 2.6 8.6 3.6 8.5 5.4 C7.4 4.8 6.4 4 6 3.4 C5.4 4.4 4.6 5.2 3.5 5.6 Z" fill="#2a1f2a"/><circle cx="5.1" cy="6.2" r="0.28" fill="#3a2a2a"/><circle cx="6.9" cy="6.2" r="0.28" fill="#3a2a2a"/></g></svg>
<div class="a" style="left:708.10px;top:599.00px;width:18.40px;height:7.70px;background:#dcf5e6;border-radius:1.2px;"></div>
<div class="a" style="left:746.25px;top:596.00px;width:13.10px;height:13.00px;background:#e8e5fe;border-radius:1.5px;"></div>
<div class="a" style="left:764.75px;top:596.00px;width:13.10px;height:13.00px;background:#fde1e3;border-radius:1.5px;"></div>
<svg class="a" style="left:769.30px;top:598.20px;" width="4" height="4" viewBox="0 0 4 4"><path d="M2 0.3 V3" stroke="#f2545b" stroke-width="0.6"/></svg>
</body></html>
